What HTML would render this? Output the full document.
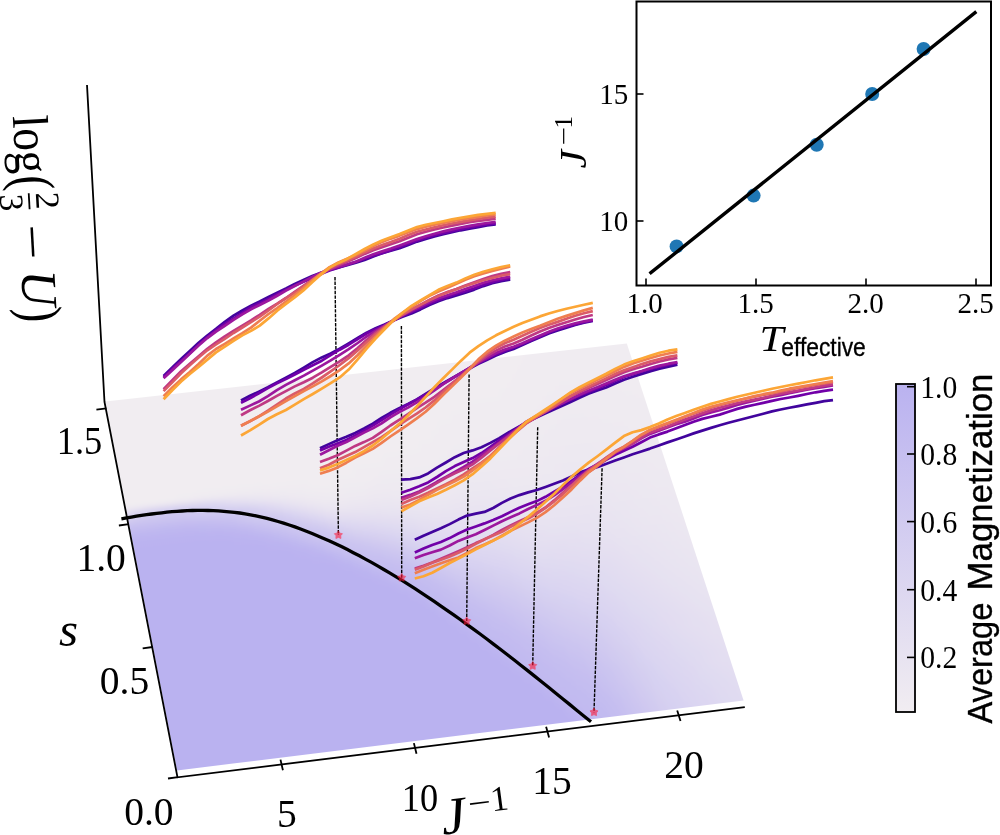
<!DOCTYPE html>
<html><head><meta charset="utf-8"><title>Phase diagram</title><style>html,body{margin:0;padding:0;background:#fff}svg{display:block}</style></head><body>
<svg width="1000" height="835" viewBox="0 0 1000 835">
<defs><linearGradient id="g0" gradientUnits="userSpaceOnUse" x1="170.8" y1="787.6" x2="94.2" y2="389.0"><stop offset="0.000" stop-color="#bab2f0"/><stop offset="0.591" stop-color="#bab2f0"/><stop offset="0.613" stop-color="#bbb3f0"/><stop offset="0.636" stop-color="#c1b9f0"/><stop offset="0.658" stop-color="#cbc4f0"/><stop offset="0.680" stop-color="#e0dbf1"/><stop offset="0.702" stop-color="#f1edf1"/><stop offset="1.000" stop-color="#f1edf1"/></linearGradient><linearGradient id="g1" gradientUnits="userSpaceOnUse" x1="179.2" y1="786.6" x2="101.9" y2="388.2"><stop offset="0.000" stop-color="#bab2f0"/><stop offset="0.591" stop-color="#bab2f0"/><stop offset="0.613" stop-color="#bbb3f0"/><stop offset="0.636" stop-color="#c0b9f0"/><stop offset="0.658" stop-color="#cbc4f0"/><stop offset="0.680" stop-color="#ddd7f1"/><stop offset="0.702" stop-color="#f1edf1"/><stop offset="1.000" stop-color="#f1edf1"/></linearGradient><linearGradient id="g2" gradientUnits="userSpaceOnUse" x1="187.6" y1="785.5" x2="109.6" y2="387.3"><stop offset="0.000" stop-color="#bab2f0"/><stop offset="0.591" stop-color="#bab2f0"/><stop offset="0.613" stop-color="#bbb3f0"/><stop offset="0.636" stop-color="#c0b8f0"/><stop offset="0.658" stop-color="#cac3f0"/><stop offset="0.680" stop-color="#d8d2f1"/><stop offset="0.702" stop-color="#f1edf1"/><stop offset="1.000" stop-color="#f1edf1"/></linearGradient><linearGradient id="g3" gradientUnits="userSpaceOnUse" x1="196.0" y1="784.5" x2="117.3" y2="386.5"><stop offset="0.000" stop-color="#bab2f0"/><stop offset="0.591" stop-color="#bab2f0"/><stop offset="0.613" stop-color="#bbb3f0"/><stop offset="0.636" stop-color="#c0b8f0"/><stop offset="0.658" stop-color="#cac3f0"/><stop offset="0.680" stop-color="#d4cef0"/><stop offset="0.702" stop-color="#f1edf1"/><stop offset="1.000" stop-color="#f1edf1"/></linearGradient><linearGradient id="g4" gradientUnits="userSpaceOnUse" x1="204.4" y1="783.5" x2="124.9" y2="385.6"><stop offset="0.000" stop-color="#bab2f0"/><stop offset="0.591" stop-color="#bab2f0"/><stop offset="0.613" stop-color="#bbb3f0"/><stop offset="0.636" stop-color="#c0b8f0"/><stop offset="0.658" stop-color="#cac3f0"/><stop offset="0.680" stop-color="#d2ccf0"/><stop offset="0.702" stop-color="#f1edf1"/><stop offset="1.000" stop-color="#f1edf1"/></linearGradient><linearGradient id="g5" gradientUnits="userSpaceOnUse" x1="212.8" y1="782.4" x2="132.6" y2="384.8"><stop offset="0.000" stop-color="#bab2f0"/><stop offset="0.591" stop-color="#bab2f0"/><stop offset="0.613" stop-color="#bbb3f0"/><stop offset="0.636" stop-color="#bfb8f0"/><stop offset="0.658" stop-color="#cac3f0"/><stop offset="0.680" stop-color="#d1cbf0"/><stop offset="0.702" stop-color="#f1edf1"/><stop offset="1.000" stop-color="#f1edf1"/></linearGradient><linearGradient id="g6" gradientUnits="userSpaceOnUse" x1="221.2" y1="781.4" x2="140.3" y2="383.9"><stop offset="0.000" stop-color="#bab2f0"/><stop offset="0.591" stop-color="#bab2f0"/><stop offset="0.613" stop-color="#bbb3f0"/><stop offset="0.636" stop-color="#bfb8f0"/><stop offset="0.658" stop-color="#cac3f0"/><stop offset="0.680" stop-color="#d1cbf0"/><stop offset="0.702" stop-color="#f1edf1"/><stop offset="1.000" stop-color="#f1edf1"/></linearGradient><linearGradient id="g7" gradientUnits="userSpaceOnUse" x1="229.6" y1="780.3" x2="147.9" y2="383.1"><stop offset="0.000" stop-color="#bab2f0"/><stop offset="0.591" stop-color="#bab2f0"/><stop offset="0.613" stop-color="#bbb3f0"/><stop offset="0.636" stop-color="#c0b8f0"/><stop offset="0.658" stop-color="#cac3f0"/><stop offset="0.680" stop-color="#d1cbf0"/><stop offset="0.702" stop-color="#f1edf1"/><stop offset="1.000" stop-color="#f1edf1"/></linearGradient><linearGradient id="g8" gradientUnits="userSpaceOnUse" x1="238.0" y1="779.3" x2="155.6" y2="382.2"><stop offset="0.000" stop-color="#bab2f0"/><stop offset="0.591" stop-color="#bab2f0"/><stop offset="0.613" stop-color="#bbb3f0"/><stop offset="0.636" stop-color="#c0b8f0"/><stop offset="0.658" stop-color="#cac3f0"/><stop offset="0.680" stop-color="#d2ccf0"/><stop offset="0.702" stop-color="#f0ecf1"/><stop offset="0.724" stop-color="#f1edf1"/><stop offset="1.000" stop-color="#f1edf1"/></linearGradient><linearGradient id="g9" gradientUnits="userSpaceOnUse" x1="246.4" y1="778.3" x2="163.3" y2="381.4"><stop offset="0.000" stop-color="#bab2f0"/><stop offset="0.591" stop-color="#bab2f0"/><stop offset="0.613" stop-color="#bbb3f0"/><stop offset="0.636" stop-color="#c1b9f0"/><stop offset="0.658" stop-color="#cbc4f0"/><stop offset="0.680" stop-color="#d3cdf0"/><stop offset="0.702" stop-color="#f0ecf1"/><stop offset="0.724" stop-color="#f1edf1"/><stop offset="1.000" stop-color="#f1edf1"/></linearGradient><linearGradient id="g10" gradientUnits="userSpaceOnUse" x1="254.8" y1="777.2" x2="170.9" y2="380.5"><stop offset="0.000" stop-color="#bab2f0"/><stop offset="0.591" stop-color="#bab2f0"/><stop offset="0.613" stop-color="#bbb4f0"/><stop offset="0.636" stop-color="#c1baf0"/><stop offset="0.658" stop-color="#ccc5f0"/><stop offset="0.680" stop-color="#d5cff0"/><stop offset="0.702" stop-color="#f0ebf1"/><stop offset="0.724" stop-color="#f1edf1"/><stop offset="1.000" stop-color="#f1edf1"/></linearGradient><linearGradient id="g11" gradientUnits="userSpaceOnUse" x1="263.2" y1="776.2" x2="178.6" y2="379.7"><stop offset="0.000" stop-color="#bab2f0"/><stop offset="0.591" stop-color="#bab2f0"/><stop offset="0.613" stop-color="#bcb4f0"/><stop offset="0.636" stop-color="#c2bbf0"/><stop offset="0.658" stop-color="#cdc6f0"/><stop offset="0.680" stop-color="#d7d1f1"/><stop offset="0.702" stop-color="#efebf1"/><stop offset="0.724" stop-color="#f1edf1"/><stop offset="1.000" stop-color="#f1edf1"/></linearGradient><linearGradient id="g12" gradientUnits="userSpaceOnUse" x1="271.5" y1="775.1" x2="186.2" y2="378.8"><stop offset="0.000" stop-color="#bab2f0"/><stop offset="0.591" stop-color="#bab2f0"/><stop offset="0.613" stop-color="#bcb4f0"/><stop offset="0.636" stop-color="#c4bcf0"/><stop offset="0.658" stop-color="#cdc7f0"/><stop offset="0.680" stop-color="#d9d4f1"/><stop offset="0.702" stop-color="#efebf1"/><stop offset="0.724" stop-color="#f1edf1"/><stop offset="1.000" stop-color="#f1edf1"/></linearGradient><linearGradient id="g13" gradientUnits="userSpaceOnUse" x1="279.9" y1="774.1" x2="193.9" y2="378.0"><stop offset="0.000" stop-color="#bab2f0"/><stop offset="0.591" stop-color="#bab2f0"/><stop offset="0.613" stop-color="#bdb5f0"/><stop offset="0.636" stop-color="#c5bef0"/><stop offset="0.658" stop-color="#cec8f0"/><stop offset="0.680" stop-color="#dcd7f1"/><stop offset="0.702" stop-color="#efebf1"/><stop offset="0.724" stop-color="#f1edf1"/><stop offset="1.000" stop-color="#f1edf1"/></linearGradient><linearGradient id="g14" gradientUnits="userSpaceOnUse" x1="288.3" y1="773.1" x2="201.5" y2="377.1"><stop offset="0.000" stop-color="#bab2f0"/><stop offset="0.568" stop-color="#bab2f0"/><stop offset="0.591" stop-color="#bbb3f0"/><stop offset="0.613" stop-color="#beb6f0"/><stop offset="0.636" stop-color="#c7c0f0"/><stop offset="0.658" stop-color="#cfc8f0"/><stop offset="0.680" stop-color="#dfdaf1"/><stop offset="0.702" stop-color="#efebf1"/><stop offset="0.724" stop-color="#f1edf1"/><stop offset="1.000" stop-color="#f1edf1"/></linearGradient><linearGradient id="g15" gradientUnits="userSpaceOnUse" x1="296.6" y1="772.0" x2="209.1" y2="376.3"><stop offset="0.000" stop-color="#bab2f0"/><stop offset="0.568" stop-color="#bab2f0"/><stop offset="0.591" stop-color="#bbb3f0"/><stop offset="0.613" stop-color="#c0b8f0"/><stop offset="0.635" stop-color="#cac3f0"/><stop offset="0.658" stop-color="#cfc9f0"/><stop offset="0.680" stop-color="#e2ddf1"/><stop offset="0.702" stop-color="#efebf1"/><stop offset="0.724" stop-color="#f1edf1"/><stop offset="1.000" stop-color="#f1edf1"/></linearGradient><linearGradient id="g16" gradientUnits="userSpaceOnUse" x1="305.0" y1="771.0" x2="216.8" y2="375.4"><stop offset="0.000" stop-color="#bab2f0"/><stop offset="0.568" stop-color="#bab2f0"/><stop offset="0.591" stop-color="#bcb4f0"/><stop offset="0.613" stop-color="#c2baf0"/><stop offset="0.635" stop-color="#ccc6f0"/><stop offset="0.658" stop-color="#d1cbf0"/><stop offset="0.680" stop-color="#e4dff1"/><stop offset="0.702" stop-color="#efebf1"/><stop offset="0.724" stop-color="#f1edf1"/><stop offset="1.000" stop-color="#f1edf1"/></linearGradient><linearGradient id="g17" gradientUnits="userSpaceOnUse" x1="313.3" y1="770.0" x2="224.4" y2="374.6"><stop offset="0.000" stop-color="#bab2f0"/><stop offset="0.568" stop-color="#bab2f0"/><stop offset="0.591" stop-color="#bdb5f0"/><stop offset="0.613" stop-color="#c5bef0"/><stop offset="0.635" stop-color="#cec8f0"/><stop offset="0.658" stop-color="#d5cff0"/><stop offset="0.680" stop-color="#e6e2f1"/><stop offset="0.702" stop-color="#efebf1"/><stop offset="0.724" stop-color="#f1edf1"/><stop offset="1.000" stop-color="#f1edf1"/></linearGradient><linearGradient id="g18" gradientUnits="userSpaceOnUse" x1="321.7" y1="768.9" x2="232.0" y2="373.7"><stop offset="0.000" stop-color="#bab2f0"/><stop offset="0.546" stop-color="#bab2f0"/><stop offset="0.568" stop-color="#bbb3f0"/><stop offset="0.591" stop-color="#bfb7f0"/><stop offset="0.613" stop-color="#c8c1f0"/><stop offset="0.635" stop-color="#cfc8f0"/><stop offset="0.658" stop-color="#d9d3f1"/><stop offset="0.680" stop-color="#e8e4f1"/><stop offset="0.702" stop-color="#efebf1"/><stop offset="0.724" stop-color="#f1edf1"/><stop offset="1.000" stop-color="#f1edf1"/></linearGradient><linearGradient id="g19" gradientUnits="userSpaceOnUse" x1="330.0" y1="767.9" x2="239.6" y2="372.9"><stop offset="0.000" stop-color="#bab2f0"/><stop offset="0.546" stop-color="#bab2f0"/><stop offset="0.568" stop-color="#bbb4f0"/><stop offset="0.591" stop-color="#c1baf0"/><stop offset="0.613" stop-color="#ccc5f0"/><stop offset="0.635" stop-color="#d0c9f0"/><stop offset="0.658" stop-color="#ddd7f1"/><stop offset="0.680" stop-color="#eae5f1"/><stop offset="0.702" stop-color="#f0ebf1"/><stop offset="0.724" stop-color="#f1edf1"/><stop offset="1.000" stop-color="#f1edf1"/></linearGradient><linearGradient id="g20" gradientUnits="userSpaceOnUse" x1="338.3" y1="766.9" x2="247.2" y2="372.0"><stop offset="0.000" stop-color="#bab2f0"/><stop offset="0.546" stop-color="#bab2f0"/><stop offset="0.568" stop-color="#bdb5f0"/><stop offset="0.591" stop-color="#c5bef0"/><stop offset="0.613" stop-color="#cdc7f0"/><stop offset="0.635" stop-color="#d2ccf0"/><stop offset="0.658" stop-color="#e0dbf1"/><stop offset="0.680" stop-color="#ebe7f1"/><stop offset="0.702" stop-color="#f0ecf1"/><stop offset="0.724" stop-color="#f1edf1"/><stop offset="1.000" stop-color="#f1edf1"/></linearGradient><linearGradient id="g21" gradientUnits="userSpaceOnUse" x1="346.7" y1="765.8" x2="254.8" y2="371.2"><stop offset="0.000" stop-color="#bab2f0"/><stop offset="0.523" stop-color="#bab2f0"/><stop offset="0.546" stop-color="#bbb3f0"/><stop offset="0.568" stop-color="#bfb8f0"/><stop offset="0.591" stop-color="#c9c2f0"/><stop offset="0.613" stop-color="#cec7f0"/><stop offset="0.635" stop-color="#d6d0f1"/><stop offset="0.658" stop-color="#e4dff1"/><stop offset="0.680" stop-color="#ece8f1"/><stop offset="0.702" stop-color="#f0ecf1"/><stop offset="0.724" stop-color="#f1edf1"/><stop offset="1.000" stop-color="#f1edf1"/></linearGradient><linearGradient id="g22" gradientUnits="userSpaceOnUse" x1="355.0" y1="764.8" x2="262.5" y2="370.3"><stop offset="0.000" stop-color="#bab2f0"/><stop offset="0.523" stop-color="#bab2f0"/><stop offset="0.546" stop-color="#bcb4f0"/><stop offset="0.568" stop-color="#c3bcf0"/><stop offset="0.591" stop-color="#ccc5f0"/><stop offset="0.613" stop-color="#cfc9f0"/><stop offset="0.635" stop-color="#dad5f1"/><stop offset="0.658" stop-color="#e6e2f1"/><stop offset="0.680" stop-color="#eee9f1"/><stop offset="0.702" stop-color="#f0ecf1"/><stop offset="0.724" stop-color="#f1edf1"/><stop offset="1.000" stop-color="#f1edf1"/></linearGradient><linearGradient id="g23" gradientUnits="userSpaceOnUse" x1="363.3" y1="763.8" x2="270.1" y2="369.5"><stop offset="0.000" stop-color="#bab2f0"/><stop offset="0.501" stop-color="#bab2f0"/><stop offset="0.523" stop-color="#bbb3f0"/><stop offset="0.546" stop-color="#beb6f0"/><stop offset="0.568" stop-color="#c7c0f0"/><stop offset="0.591" stop-color="#ccc5f0"/><stop offset="0.613" stop-color="#d3ccf0"/><stop offset="0.635" stop-color="#dfd9f1"/><stop offset="0.658" stop-color="#e9e4f1"/><stop offset="0.680" stop-color="#eeeaf1"/><stop offset="0.702" stop-color="#f0ecf1"/><stop offset="0.724" stop-color="#f1edf1"/><stop offset="1.000" stop-color="#f1edf1"/></linearGradient><linearGradient id="g24" gradientUnits="userSpaceOnUse" x1="371.6" y1="762.7" x2="277.7" y2="368.7"><stop offset="0.000" stop-color="#bab2f0"/><stop offset="0.501" stop-color="#bab2f0"/><stop offset="0.523" stop-color="#bbb3f0"/><stop offset="0.546" stop-color="#c1baf0"/><stop offset="0.568" stop-color="#cac3f0"/><stop offset="0.591" stop-color="#cdc7f0"/><stop offset="0.613" stop-color="#d7d1f1"/><stop offset="0.635" stop-color="#e2ddf1"/><stop offset="0.658" stop-color="#ebe6f1"/><stop offset="0.680" stop-color="#efebf1"/><stop offset="0.702" stop-color="#f0ecf1"/><stop offset="0.724" stop-color="#f1edf1"/><stop offset="1.000" stop-color="#f1edf1"/></linearGradient><linearGradient id="g25" gradientUnits="userSpaceOnUse" x1="379.9" y1="761.7" x2="285.3" y2="367.8"><stop offset="0.000" stop-color="#bab2f0"/><stop offset="0.501" stop-color="#bab2f0"/><stop offset="0.523" stop-color="#bdb5f0"/><stop offset="0.546" stop-color="#c6bff0"/><stop offset="0.568" stop-color="#cbc4f0"/><stop offset="0.591" stop-color="#d0caf0"/><stop offset="0.613" stop-color="#dbd5f1"/><stop offset="0.635" stop-color="#e5e0f1"/><stop offset="0.658" stop-color="#ece8f1"/><stop offset="0.680" stop-color="#efebf1"/><stop offset="0.702" stop-color="#f1edf1"/><stop offset="1.000" stop-color="#f1edf1"/></linearGradient><linearGradient id="g26" gradientUnits="userSpaceOnUse" x1="388.2" y1="760.7" x2="292.8" y2="367.0"><stop offset="0.000" stop-color="#bab2f0"/><stop offset="0.478" stop-color="#bab2f0"/><stop offset="0.501" stop-color="#bbb3f0"/><stop offset="0.523" stop-color="#c0b9f0"/><stop offset="0.546" stop-color="#c9c2f0"/><stop offset="0.568" stop-color="#ccc5f0"/><stop offset="0.591" stop-color="#d4cef0"/><stop offset="0.613" stop-color="#dfd9f1"/><stop offset="0.635" stop-color="#e8e3f1"/><stop offset="0.658" stop-color="#ede9f1"/><stop offset="0.680" stop-color="#f0ebf1"/><stop offset="0.702" stop-color="#f1edf1"/><stop offset="1.000" stop-color="#f1edf1"/></linearGradient><linearGradient id="g27" gradientUnits="userSpaceOnUse" x1="396.5" y1="759.7" x2="300.4" y2="366.1"><stop offset="0.000" stop-color="#bab2f0"/><stop offset="0.478" stop-color="#bab2f0"/><stop offset="0.500" stop-color="#bcb5f0"/><stop offset="0.523" stop-color="#c6bef0"/><stop offset="0.546" stop-color="#c9c3f0"/><stop offset="0.568" stop-color="#cfc8f0"/><stop offset="0.591" stop-color="#d8d2f1"/><stop offset="0.613" stop-color="#e2ddf1"/><stop offset="0.635" stop-color="#e9e4f1"/><stop offset="0.658" stop-color="#ede9f1"/><stop offset="0.680" stop-color="#f0ecf1"/><stop offset="0.702" stop-color="#f1edf1"/><stop offset="1.000" stop-color="#f1edf1"/></linearGradient><linearGradient id="g28" gradientUnits="userSpaceOnUse" x1="404.8" y1="758.6" x2="308.0" y2="365.3"><stop offset="0.000" stop-color="#bab2f0"/><stop offset="0.455" stop-color="#bab2f0"/><stop offset="0.478" stop-color="#bbb3f0"/><stop offset="0.500" stop-color="#c0b9f0"/><stop offset="0.523" stop-color="#c8c1f0"/><stop offset="0.546" stop-color="#cbc4f0"/><stop offset="0.568" stop-color="#d2ccf0"/><stop offset="0.591" stop-color="#dbd5f1"/><stop offset="0.613" stop-color="#e3def1"/><stop offset="0.635" stop-color="#eae5f1"/><stop offset="0.658" stop-color="#eee9f1"/><stop offset="0.680" stop-color="#f0ebf1"/><stop offset="0.702" stop-color="#f0ecf1"/><stop offset="0.724" stop-color="#f1edf1"/><stop offset="1.000" stop-color="#f1edf1"/></linearGradient><linearGradient id="g29" gradientUnits="userSpaceOnUse" x1="413.1" y1="757.6" x2="315.6" y2="364.4"><stop offset="0.000" stop-color="#bab2f0"/><stop offset="0.455" stop-color="#bab2f0"/><stop offset="0.478" stop-color="#bcb5f0"/><stop offset="0.500" stop-color="#c6bff0"/><stop offset="0.523" stop-color="#c8c1f0"/><stop offset="0.546" stop-color="#cdc6f0"/><stop offset="0.568" stop-color="#d5cff0"/><stop offset="0.591" stop-color="#ddd8f1"/><stop offset="0.613" stop-color="#e4dff1"/><stop offset="0.635" stop-color="#eae5f1"/><stop offset="0.658" stop-color="#ede9f1"/><stop offset="0.680" stop-color="#efebf1"/><stop offset="0.702" stop-color="#f0ecf1"/><stop offset="0.724" stop-color="#f1edf1"/><stop offset="1.000" stop-color="#f1edf1"/></linearGradient><linearGradient id="g30" gradientUnits="userSpaceOnUse" x1="421.4" y1="756.6" x2="323.2" y2="363.6"><stop offset="0.000" stop-color="#bab2f0"/><stop offset="0.432" stop-color="#bab2f0"/><stop offset="0.455" stop-color="#bbb3f0"/><stop offset="0.478" stop-color="#c1baf0"/><stop offset="0.500" stop-color="#c6bff0"/><stop offset="0.523" stop-color="#c9c2f0"/><stop offset="0.546" stop-color="#cfc9f0"/><stop offset="0.568" stop-color="#d7d1f1"/><stop offset="0.591" stop-color="#dfd9f1"/><stop offset="0.613" stop-color="#e5e0f1"/><stop offset="0.635" stop-color="#eae5f1"/><stop offset="0.658" stop-color="#ede9f1"/><stop offset="0.680" stop-color="#efebf1"/><stop offset="0.702" stop-color="#f0ecf1"/><stop offset="0.724" stop-color="#f1edf1"/><stop offset="1.000" stop-color="#f1edf1"/></linearGradient><linearGradient id="g31" gradientUnits="userSpaceOnUse" x1="429.7" y1="755.6" x2="330.8" y2="362.8"><stop offset="0.000" stop-color="#bab2f0"/><stop offset="0.432" stop-color="#bab2f0"/><stop offset="0.455" stop-color="#bdb5f0"/><stop offset="0.478" stop-color="#c5bdf0"/><stop offset="0.500" stop-color="#c6bff0"/><stop offset="0.523" stop-color="#cbc4f0"/><stop offset="0.546" stop-color="#d2cbf0"/><stop offset="0.568" stop-color="#d9d3f1"/><stop offset="0.591" stop-color="#e0daf1"/><stop offset="0.613" stop-color="#e5e1f1"/><stop offset="0.635" stop-color="#eae5f1"/><stop offset="0.658" stop-color="#ede9f1"/><stop offset="0.680" stop-color="#efebf1"/><stop offset="0.702" stop-color="#f0ecf1"/><stop offset="0.724" stop-color="#f0ecf1"/><stop offset="0.745" stop-color="#f1edf1"/><stop offset="1.000" stop-color="#f1edf1"/></linearGradient><linearGradient id="g32" gradientUnits="userSpaceOnUse" x1="438.0" y1="754.5" x2="338.3" y2="361.9"><stop offset="0.000" stop-color="#bab2f0"/><stop offset="0.409" stop-color="#bab2f0"/><stop offset="0.432" stop-color="#bbb3f0"/><stop offset="0.455" stop-color="#c3bcf0"/><stop offset="0.478" stop-color="#c4bdf0"/><stop offset="0.500" stop-color="#c8c1f0"/><stop offset="0.523" stop-color="#cdc7f0"/><stop offset="0.546" stop-color="#d4cef0"/><stop offset="0.568" stop-color="#dbd5f1"/><stop offset="0.591" stop-color="#e1dcf1"/><stop offset="0.613" stop-color="#e6e1f1"/><stop offset="0.635" stop-color="#eae5f1"/><stop offset="0.658" stop-color="#ede8f1"/><stop offset="0.680" stop-color="#efeaf1"/><stop offset="0.702" stop-color="#f0ecf1"/><stop offset="0.723" stop-color="#f0ecf1"/><stop offset="0.745" stop-color="#f1edf1"/><stop offset="1.000" stop-color="#f1edf1"/></linearGradient><linearGradient id="g33" gradientUnits="userSpaceOnUse" x1="446.3" y1="753.5" x2="345.9" y2="361.1"><stop offset="0.000" stop-color="#bab2f0"/><stop offset="0.409" stop-color="#bab2f0"/><stop offset="0.432" stop-color="#c0b9f0"/><stop offset="0.455" stop-color="#c3bcf0"/><stop offset="0.478" stop-color="#c6bef0"/><stop offset="0.500" stop-color="#cac3f0"/><stop offset="0.523" stop-color="#d0c9f0"/><stop offset="0.546" stop-color="#d6d0f1"/><stop offset="0.568" stop-color="#dcd7f1"/><stop offset="0.591" stop-color="#e2ddf1"/><stop offset="0.613" stop-color="#e7e2f1"/><stop offset="0.635" stop-color="#eae6f1"/><stop offset="0.658" stop-color="#ede8f1"/><stop offset="0.680" stop-color="#eeeaf1"/><stop offset="0.702" stop-color="#f0ebf1"/><stop offset="0.723" stop-color="#f0ecf1"/><stop offset="0.745" stop-color="#f1edf1"/><stop offset="1.000" stop-color="#f1edf1"/></linearGradient><linearGradient id="g34" gradientUnits="userSpaceOnUse" x1="454.6" y1="752.5" x2="353.5" y2="360.2"><stop offset="0.000" stop-color="#bab2f0"/><stop offset="0.385" stop-color="#bab2f0"/><stop offset="0.409" stop-color="#bdb5f0"/><stop offset="0.432" stop-color="#c2bbf0"/><stop offset="0.455" stop-color="#c4bcf0"/><stop offset="0.478" stop-color="#c7c0f0"/><stop offset="0.500" stop-color="#ccc6f0"/><stop offset="0.523" stop-color="#d2ccf0"/><stop offset="0.546" stop-color="#d8d3f1"/><stop offset="0.568" stop-color="#ded9f1"/><stop offset="0.591" stop-color="#e3def1"/><stop offset="0.613" stop-color="#e7e3f1"/><stop offset="0.635" stop-color="#eae6f1"/><stop offset="0.658" stop-color="#ede8f1"/><stop offset="0.680" stop-color="#eeeaf1"/><stop offset="0.702" stop-color="#efebf1"/><stop offset="0.723" stop-color="#f0ecf1"/><stop offset="0.745" stop-color="#f1edf1"/><stop offset="1.000" stop-color="#f1edf1"/></linearGradient><linearGradient id="g35" gradientUnits="userSpaceOnUse" x1="462.8" y1="751.5" x2="361.0" y2="359.4"><stop offset="0.000" stop-color="#bab2f0"/><stop offset="0.362" stop-color="#bab2f0"/><stop offset="0.385" stop-color="#bbb3f0"/><stop offset="0.409" stop-color="#c1baf0"/><stop offset="0.432" stop-color="#c3bbf0"/><stop offset="0.455" stop-color="#c6bef0"/><stop offset="0.478" stop-color="#cac3f0"/><stop offset="0.500" stop-color="#cfc9f0"/><stop offset="0.523" stop-color="#d5cff0"/><stop offset="0.546" stop-color="#dbd5f1"/><stop offset="0.568" stop-color="#e0dbf1"/><stop offset="0.591" stop-color="#e4dff1"/><stop offset="0.613" stop-color="#e8e3f1"/><stop offset="0.635" stop-color="#ebe6f1"/><stop offset="0.658" stop-color="#ede9f1"/><stop offset="0.680" stop-color="#eeeaf1"/><stop offset="0.702" stop-color="#efebf1"/><stop offset="0.723" stop-color="#f0ecf1"/><stop offset="0.745" stop-color="#f0ecf1"/><stop offset="0.767" stop-color="#f1edf1"/><stop offset="1.000" stop-color="#f1edf1"/></linearGradient><linearGradient id="g36" gradientUnits="userSpaceOnUse" x1="471.1" y1="750.4" x2="368.6" y2="358.6"><stop offset="0.000" stop-color="#bab2f0"/><stop offset="0.339" stop-color="#bab2f0"/><stop offset="0.362" stop-color="#bab3f0"/><stop offset="0.385" stop-color="#c1baf0"/><stop offset="0.409" stop-color="#c2bbf0"/><stop offset="0.432" stop-color="#c4bdf0"/><stop offset="0.455" stop-color="#c8c1f0"/><stop offset="0.478" stop-color="#cdc6f0"/><stop offset="0.500" stop-color="#d2ccf0"/><stop offset="0.523" stop-color="#d8d2f1"/><stop offset="0.546" stop-color="#ddd7f1"/><stop offset="0.568" stop-color="#e1dcf1"/><stop offset="0.591" stop-color="#e5e1f1"/><stop offset="0.613" stop-color="#e9e4f1"/><stop offset="0.635" stop-color="#ebe7f1"/><stop offset="0.658" stop-color="#ede9f1"/><stop offset="0.680" stop-color="#eeeaf1"/><stop offset="0.702" stop-color="#efebf1"/><stop offset="0.723" stop-color="#f0ecf1"/><stop offset="0.745" stop-color="#f0ecf1"/><stop offset="0.767" stop-color="#f1edf1"/><stop offset="1.000" stop-color="#f1edf1"/></linearGradient><linearGradient id="g37" gradientUnits="userSpaceOnUse" x1="479.3" y1="749.4" x2="376.1" y2="357.7"><stop offset="0.000" stop-color="#bab2f0"/><stop offset="0.339" stop-color="#bab2f0"/><stop offset="0.362" stop-color="#c1b9f0"/><stop offset="0.385" stop-color="#c2baf0"/><stop offset="0.409" stop-color="#c4bcf0"/><stop offset="0.432" stop-color="#c7c0f0"/><stop offset="0.455" stop-color="#cbc4f0"/><stop offset="0.478" stop-color="#d0c9f0"/><stop offset="0.500" stop-color="#d5cff0"/><stop offset="0.523" stop-color="#dad4f1"/><stop offset="0.546" stop-color="#dfd9f1"/><stop offset="0.568" stop-color="#e3def1"/><stop offset="0.591" stop-color="#e6e2f1"/><stop offset="0.613" stop-color="#e9e5f1"/><stop offset="0.635" stop-color="#ece7f1"/><stop offset="0.658" stop-color="#ede9f1"/><stop offset="0.680" stop-color="#efeaf1"/><stop offset="0.702" stop-color="#efebf1"/><stop offset="0.723" stop-color="#f0ecf1"/><stop offset="0.745" stop-color="#f0ecf1"/><stop offset="0.767" stop-color="#f1edf1"/><stop offset="1.000" stop-color="#f1edf1"/></linearGradient><linearGradient id="g38" gradientUnits="userSpaceOnUse" x1="487.6" y1="748.4" x2="383.7" y2="356.9"><stop offset="0.000" stop-color="#bab2f0"/><stop offset="0.315" stop-color="#bab2f0"/><stop offset="0.339" stop-color="#c0b8f0"/><stop offset="0.362" stop-color="#c2baf0"/><stop offset="0.385" stop-color="#c3bcf0"/><stop offset="0.409" stop-color="#c6bff0"/><stop offset="0.432" stop-color="#c9c3f0"/><stop offset="0.455" stop-color="#cec7f0"/><stop offset="0.478" stop-color="#d2ccf0"/><stop offset="0.500" stop-color="#d7d1f1"/><stop offset="0.523" stop-color="#dcd6f1"/><stop offset="0.546" stop-color="#e0dbf1"/><stop offset="0.568" stop-color="#e4dff1"/><stop offset="0.591" stop-color="#e7e2f1"/><stop offset="0.613" stop-color="#eae5f1"/><stop offset="0.635" stop-color="#ece7f1"/><stop offset="0.658" stop-color="#ede9f1"/><stop offset="0.680" stop-color="#efeaf1"/><stop offset="0.702" stop-color="#efebf1"/><stop offset="0.723" stop-color="#f0ecf1"/><stop offset="0.745" stop-color="#f0ecf1"/><stop offset="0.767" stop-color="#f1edf1"/><stop offset="1.000" stop-color="#f1edf1"/></linearGradient><linearGradient id="g39" gradientUnits="userSpaceOnUse" x1="495.9" y1="747.4" x2="391.2" y2="356.1"><stop offset="0.000" stop-color="#bab2f0"/><stop offset="0.291" stop-color="#bab2f0"/><stop offset="0.315" stop-color="#bfb7f0"/><stop offset="0.339" stop-color="#c1baf0"/><stop offset="0.362" stop-color="#c3bbf0"/><stop offset="0.385" stop-color="#c5bef0"/><stop offset="0.409" stop-color="#c8c1f0"/><stop offset="0.432" stop-color="#ccc5f0"/><stop offset="0.455" stop-color="#d0caf0"/><stop offset="0.478" stop-color="#d5cff0"/><stop offset="0.500" stop-color="#d9d4f1"/><stop offset="0.523" stop-color="#ddd8f1"/><stop offset="0.546" stop-color="#e1dcf1"/><stop offset="0.568" stop-color="#e5e0f1"/><stop offset="0.591" stop-color="#e8e3f1"/><stop offset="0.613" stop-color="#eae5f1"/><stop offset="0.635" stop-color="#ece8f1"/><stop offset="0.658" stop-color="#ede9f1"/><stop offset="0.680" stop-color="#eeeaf1"/><stop offset="0.702" stop-color="#efebf1"/><stop offset="0.723" stop-color="#f0ecf1"/><stop offset="0.745" stop-color="#f0ecf1"/><stop offset="0.767" stop-color="#f1edf1"/><stop offset="1.000" stop-color="#f1edf1"/></linearGradient><linearGradient id="g40" gradientUnits="userSpaceOnUse" x1="504.1" y1="746.3" x2="398.8" y2="355.2"><stop offset="0.000" stop-color="#bab2f0"/><stop offset="0.268" stop-color="#bab2f0"/><stop offset="0.291" stop-color="#beb6f0"/><stop offset="0.315" stop-color="#c1baf0"/><stop offset="0.339" stop-color="#c2bbf0"/><stop offset="0.362" stop-color="#c4bdf0"/><stop offset="0.385" stop-color="#c7c0f0"/><stop offset="0.409" stop-color="#cbc4f0"/><stop offset="0.432" stop-color="#cec8f0"/><stop offset="0.455" stop-color="#d3ccf0"/><stop offset="0.478" stop-color="#d7d1f1"/><stop offset="0.500" stop-color="#dbd5f1"/><stop offset="0.523" stop-color="#dfd9f1"/><stop offset="0.546" stop-color="#e2ddf1"/><stop offset="0.568" stop-color="#e5e0f1"/><stop offset="0.591" stop-color="#e8e3f1"/><stop offset="0.613" stop-color="#eae6f1"/><stop offset="0.635" stop-color="#ece8f1"/><stop offset="0.658" stop-color="#ede9f1"/><stop offset="0.680" stop-color="#eeeaf1"/><stop offset="0.702" stop-color="#efebf1"/><stop offset="0.723" stop-color="#f0ecf1"/><stop offset="0.767" stop-color="#f0ecf1"/><stop offset="0.789" stop-color="#f1edf1"/><stop offset="1.000" stop-color="#f1edf1"/></linearGradient><linearGradient id="g41" gradientUnits="userSpaceOnUse" x1="512.3" y1="745.3" x2="406.3" y2="354.4"><stop offset="0.000" stop-color="#bab2f0"/><stop offset="0.244" stop-color="#bab2f0"/><stop offset="0.268" stop-color="#bdb6f0"/><stop offset="0.291" stop-color="#c1baf0"/><stop offset="0.315" stop-color="#c2bbf0"/><stop offset="0.339" stop-color="#c4bdf0"/><stop offset="0.362" stop-color="#c6bff0"/><stop offset="0.385" stop-color="#c9c2f0"/><stop offset="0.409" stop-color="#cdc6f0"/><stop offset="0.432" stop-color="#d1caf0"/><stop offset="0.455" stop-color="#d4cef0"/><stop offset="0.478" stop-color="#d8d3f1"/><stop offset="0.500" stop-color="#dcd7f1"/><stop offset="0.523" stop-color="#e0daf1"/><stop offset="0.546" stop-color="#e3def1"/><stop offset="0.568" stop-color="#e6e1f1"/><stop offset="0.591" stop-color="#e8e3f1"/><stop offset="0.613" stop-color="#eae6f1"/><stop offset="0.635" stop-color="#ece7f1"/><stop offset="0.658" stop-color="#ede9f1"/><stop offset="0.680" stop-color="#eeeaf1"/><stop offset="0.702" stop-color="#efebf1"/><stop offset="0.723" stop-color="#f0ebf1"/><stop offset="0.745" stop-color="#f0ecf1"/><stop offset="0.767" stop-color="#f0ecf1"/><stop offset="0.789" stop-color="#f1edf1"/><stop offset="1.000" stop-color="#f1edf1"/></linearGradient><linearGradient id="g42" gradientUnits="userSpaceOnUse" x1="520.6" y1="744.3" x2="413.8" y2="353.5"><stop offset="0.000" stop-color="#bab2f0"/><stop offset="0.220" stop-color="#bab2f0"/><stop offset="0.244" stop-color="#bdb5f0"/><stop offset="0.268" stop-color="#c1baf0"/><stop offset="0.291" stop-color="#c2bbf0"/><stop offset="0.315" stop-color="#c3bcf0"/><stop offset="0.339" stop-color="#c5bef0"/><stop offset="0.362" stop-color="#c8c1f0"/><stop offset="0.385" stop-color="#cbc5f0"/><stop offset="0.409" stop-color="#cfc8f0"/><stop offset="0.432" stop-color="#d2ccf0"/><stop offset="0.455" stop-color="#d6d0f1"/><stop offset="0.478" stop-color="#dad4f1"/><stop offset="0.500" stop-color="#ddd8f1"/><stop offset="0.523" stop-color="#e0dbf1"/><stop offset="0.546" stop-color="#e3def1"/><stop offset="0.568" stop-color="#e6e1f1"/><stop offset="0.591" stop-color="#e8e3f1"/><stop offset="0.613" stop-color="#eae5f1"/><stop offset="0.635" stop-color="#ece7f1"/><stop offset="0.658" stop-color="#ede9f1"/><stop offset="0.680" stop-color="#eeeaf1"/><stop offset="0.702" stop-color="#efebf1"/><stop offset="0.723" stop-color="#efebf1"/><stop offset="0.745" stop-color="#f0ecf1"/><stop offset="0.789" stop-color="#f0ecf1"/><stop offset="0.810" stop-color="#f1edf1"/><stop offset="1.000" stop-color="#f1edf1"/></linearGradient><linearGradient id="g43" gradientUnits="userSpaceOnUse" x1="528.8" y1="743.3" x2="421.4" y2="352.7"><stop offset="0.000" stop-color="#bab2f0"/><stop offset="0.196" stop-color="#bab2f0"/><stop offset="0.220" stop-color="#bdb5f0"/><stop offset="0.244" stop-color="#c1baf0"/><stop offset="0.268" stop-color="#c2baf0"/><stop offset="0.291" stop-color="#c3bcf0"/><stop offset="0.315" stop-color="#c5bef0"/><stop offset="0.339" stop-color="#c7c0f0"/><stop offset="0.362" stop-color="#cac3f0"/><stop offset="0.385" stop-color="#cdc7f0"/><stop offset="0.409" stop-color="#d0caf0"/><stop offset="0.432" stop-color="#d4cef0"/><stop offset="0.455" stop-color="#d7d1f1"/><stop offset="0.478" stop-color="#dbd5f1"/><stop offset="0.500" stop-color="#ded8f1"/><stop offset="0.523" stop-color="#e1dcf1"/><stop offset="0.546" stop-color="#e3def1"/><stop offset="0.568" stop-color="#e6e1f1"/><stop offset="0.591" stop-color="#e8e3f1"/><stop offset="0.613" stop-color="#eae5f1"/><stop offset="0.635" stop-color="#ebe7f1"/><stop offset="0.658" stop-color="#ede8f1"/><stop offset="0.680" stop-color="#eee9f1"/><stop offset="0.702" stop-color="#eeeaf1"/><stop offset="0.723" stop-color="#efebf1"/><stop offset="0.745" stop-color="#f0ebf1"/><stop offset="0.767" stop-color="#f0ecf1"/><stop offset="0.810" stop-color="#f0ecf1"/><stop offset="0.832" stop-color="#f1edf1"/><stop offset="1.000" stop-color="#f1edf1"/></linearGradient><linearGradient id="g44" gradientUnits="userSpaceOnUse" x1="537.0" y1="742.3" x2="428.9" y2="351.9"><stop offset="0.000" stop-color="#bab2f0"/><stop offset="0.172" stop-color="#bab2f0"/><stop offset="0.196" stop-color="#bdb5f0"/><stop offset="0.220" stop-color="#c1baf0"/><stop offset="0.244" stop-color="#c2baf0"/><stop offset="0.268" stop-color="#c3bbf0"/><stop offset="0.291" stop-color="#c4bdf0"/><stop offset="0.315" stop-color="#c7bff0"/><stop offset="0.339" stop-color="#c9c2f0"/><stop offset="0.362" stop-color="#ccc5f0"/><stop offset="0.385" stop-color="#cfc8f0"/><stop offset="0.409" stop-color="#d2ccf0"/><stop offset="0.432" stop-color="#d5cff0"/><stop offset="0.455" stop-color="#d9d3f1"/><stop offset="0.478" stop-color="#dcd6f1"/><stop offset="0.500" stop-color="#dfd9f1"/><stop offset="0.523" stop-color="#e1dcf1"/><stop offset="0.546" stop-color="#e4dff1"/><stop offset="0.568" stop-color="#e6e1f1"/><stop offset="0.591" stop-color="#e8e3f1"/><stop offset="0.613" stop-color="#eae5f1"/><stop offset="0.635" stop-color="#ebe7f1"/><stop offset="0.658" stop-color="#ece8f1"/><stop offset="0.680" stop-color="#ede9f1"/><stop offset="0.702" stop-color="#eeeaf1"/><stop offset="0.723" stop-color="#efebf1"/><stop offset="0.745" stop-color="#efebf1"/><stop offset="0.767" stop-color="#f0ecf1"/><stop offset="0.810" stop-color="#f0ecf1"/><stop offset="0.832" stop-color="#f1edf1"/><stop offset="1.000" stop-color="#f1edf1"/></linearGradient><linearGradient id="g45" gradientUnits="userSpaceOnUse" x1="545.3" y1="741.2" x2="436.4" y2="351.0"><stop offset="0.000" stop-color="#bab2f0"/><stop offset="0.148" stop-color="#bab2f0"/><stop offset="0.172" stop-color="#bdb5f0"/><stop offset="0.196" stop-color="#c1baf0"/><stop offset="0.220" stop-color="#c2baf0"/><stop offset="0.244" stop-color="#c3bbf0"/><stop offset="0.268" stop-color="#c4bdf0"/><stop offset="0.291" stop-color="#c6bff0"/><stop offset="0.315" stop-color="#c8c1f0"/><stop offset="0.339" stop-color="#cbc4f0"/><stop offset="0.362" stop-color="#cec7f0"/><stop offset="0.385" stop-color="#d1caf0"/><stop offset="0.409" stop-color="#d4cef0"/><stop offset="0.432" stop-color="#d7d1f1"/><stop offset="0.455" stop-color="#dad4f1"/><stop offset="0.478" stop-color="#ddd7f1"/><stop offset="0.500" stop-color="#dfdaf1"/><stop offset="0.523" stop-color="#e2ddf1"/><stop offset="0.546" stop-color="#e4dff1"/><stop offset="0.568" stop-color="#e6e1f1"/><stop offset="0.591" stop-color="#e8e3f1"/><stop offset="0.613" stop-color="#eae5f1"/><stop offset="0.635" stop-color="#ebe7f1"/><stop offset="0.657" stop-color="#ece8f1"/><stop offset="0.680" stop-color="#ede9f1"/><stop offset="0.702" stop-color="#eeeaf1"/><stop offset="0.723" stop-color="#efebf1"/><stop offset="0.745" stop-color="#efebf1"/><stop offset="0.767" stop-color="#f0ecf1"/><stop offset="0.832" stop-color="#f0ecf1"/><stop offset="0.853" stop-color="#f1edf1"/><stop offset="1.000" stop-color="#f1edf1"/></linearGradient><linearGradient id="g46" gradientUnits="userSpaceOnUse" x1="553.5" y1="740.2" x2="444.0" y2="350.2"><stop offset="0.000" stop-color="#bab2f0"/><stop offset="0.123" stop-color="#bab2f0"/><stop offset="0.148" stop-color="#bdb5f0"/><stop offset="0.172" stop-color="#c1baf0"/><stop offset="0.196" stop-color="#c2baf0"/><stop offset="0.220" stop-color="#c3bbf0"/><stop offset="0.244" stop-color="#c4bdf0"/><stop offset="0.268" stop-color="#c6bef0"/><stop offset="0.291" stop-color="#c8c1f0"/><stop offset="0.315" stop-color="#cac3f0"/><stop offset="0.339" stop-color="#cdc6f0"/><stop offset="0.362" stop-color="#cfc9f0"/><stop offset="0.385" stop-color="#d2ccf0"/><stop offset="0.409" stop-color="#d5cff0"/><stop offset="0.432" stop-color="#d8d2f1"/><stop offset="0.455" stop-color="#dbd5f1"/><stop offset="0.478" stop-color="#ded8f1"/><stop offset="0.500" stop-color="#e0dbf1"/><stop offset="0.523" stop-color="#e3ddf1"/><stop offset="0.546" stop-color="#e5e0f1"/><stop offset="0.568" stop-color="#e7e2f1"/><stop offset="0.591" stop-color="#e8e4f1"/><stop offset="0.613" stop-color="#eae5f1"/><stop offset="0.635" stop-color="#ebe7f1"/><stop offset="0.657" stop-color="#ece8f1"/><stop offset="0.680" stop-color="#ede9f1"/><stop offset="0.702" stop-color="#eeeaf1"/><stop offset="0.723" stop-color="#efeaf1"/><stop offset="0.745" stop-color="#efebf1"/><stop offset="0.767" stop-color="#f0ebf1"/><stop offset="0.789" stop-color="#f0ecf1"/><stop offset="0.832" stop-color="#f0ecf1"/><stop offset="0.853" stop-color="#f1edf1"/><stop offset="1.000" stop-color="#f1edf1"/></linearGradient><linearGradient id="g47" gradientUnits="userSpaceOnUse" x1="561.7" y1="739.2" x2="451.5" y2="349.4"><stop offset="0.000" stop-color="#bab2f0"/><stop offset="0.099" stop-color="#bab2f0"/><stop offset="0.123" stop-color="#bdb5f0"/><stop offset="0.148" stop-color="#c1baf0"/><stop offset="0.172" stop-color="#c2baf0"/><stop offset="0.196" stop-color="#c2bbf0"/><stop offset="0.220" stop-color="#c4bcf0"/><stop offset="0.244" stop-color="#c5bef0"/><stop offset="0.268" stop-color="#c7c0f0"/><stop offset="0.291" stop-color="#cac3f0"/><stop offset="0.315" stop-color="#ccc5f0"/><stop offset="0.339" stop-color="#cfc8f0"/><stop offset="0.362" stop-color="#d1cbf0"/><stop offset="0.385" stop-color="#d4cef0"/><stop offset="0.409" stop-color="#d7d1f1"/><stop offset="0.432" stop-color="#dad4f1"/><stop offset="0.455" stop-color="#dcd7f1"/><stop offset="0.478" stop-color="#dfd9f1"/><stop offset="0.500" stop-color="#e1dcf1"/><stop offset="0.523" stop-color="#e3def1"/><stop offset="0.546" stop-color="#e5e0f1"/><stop offset="0.568" stop-color="#e7e2f1"/><stop offset="0.591" stop-color="#e9e4f1"/><stop offset="0.613" stop-color="#eae6f1"/><stop offset="0.635" stop-color="#ebe7f1"/><stop offset="0.657" stop-color="#ece8f1"/><stop offset="0.680" stop-color="#ede9f1"/><stop offset="0.702" stop-color="#eeeaf1"/><stop offset="0.723" stop-color="#efeaf1"/><stop offset="0.745" stop-color="#efebf1"/><stop offset="0.767" stop-color="#f0ebf1"/><stop offset="0.789" stop-color="#f0ecf1"/><stop offset="0.832" stop-color="#f0ecf1"/><stop offset="0.853" stop-color="#f1ecf1"/><stop offset="0.874" stop-color="#f1edf1"/><stop offset="1.000" stop-color="#f1edf1"/></linearGradient><linearGradient id="g48" gradientUnits="userSpaceOnUse" x1="569.9" y1="738.2" x2="459.0" y2="348.5"><stop offset="0.000" stop-color="#bab2f0"/><stop offset="0.074" stop-color="#bab2f0"/><stop offset="0.099" stop-color="#bdb5f0"/><stop offset="0.123" stop-color="#c1baf0"/><stop offset="0.148" stop-color="#c2baf0"/><stop offset="0.172" stop-color="#c2bbf0"/><stop offset="0.196" stop-color="#c4bcf0"/><stop offset="0.220" stop-color="#c5bef0"/><stop offset="0.244" stop-color="#c7c0f0"/><stop offset="0.268" stop-color="#c9c2f0"/><stop offset="0.291" stop-color="#cbc5f0"/><stop offset="0.315" stop-color="#cec7f0"/><stop offset="0.339" stop-color="#d0caf0"/><stop offset="0.362" stop-color="#d3cdf0"/><stop offset="0.385" stop-color="#d6d0f1"/><stop offset="0.409" stop-color="#d9d3f1"/><stop offset="0.432" stop-color="#dbd6f1"/><stop offset="0.455" stop-color="#ded8f1"/><stop offset="0.478" stop-color="#e0dbf1"/><stop offset="0.500" stop-color="#e2ddf1"/><stop offset="0.523" stop-color="#e4dff1"/><stop offset="0.546" stop-color="#e6e1f1"/><stop offset="0.568" stop-color="#e8e3f1"/><stop offset="0.591" stop-color="#e9e5f1"/><stop offset="0.613" stop-color="#eae6f1"/><stop offset="0.635" stop-color="#ece7f1"/><stop offset="0.657" stop-color="#ede8f1"/><stop offset="0.680" stop-color="#ede9f1"/><stop offset="0.702" stop-color="#eeeaf1"/><stop offset="0.723" stop-color="#efeaf1"/><stop offset="0.745" stop-color="#efebf1"/><stop offset="0.767" stop-color="#f0ebf1"/><stop offset="0.789" stop-color="#f0ecf1"/><stop offset="0.853" stop-color="#f0ecf1"/><stop offset="0.874" stop-color="#f1edf1"/><stop offset="1.000" stop-color="#f1edf1"/></linearGradient><linearGradient id="g49" gradientUnits="userSpaceOnUse" x1="578.1" y1="737.2" x2="466.5" y2="347.7"><stop offset="0.000" stop-color="#bab2f0"/><stop offset="0.050" stop-color="#bab2f0"/><stop offset="0.074" stop-color="#beb6f0"/><stop offset="0.099" stop-color="#c1baf0"/><stop offset="0.123" stop-color="#c2baf0"/><stop offset="0.148" stop-color="#c2bbf0"/><stop offset="0.172" stop-color="#c3bcf0"/><stop offset="0.196" stop-color="#c5bef0"/><stop offset="0.220" stop-color="#c7c0f0"/><stop offset="0.244" stop-color="#c9c2f0"/><stop offset="0.268" stop-color="#cbc4f0"/><stop offset="0.291" stop-color="#cdc7f0"/><stop offset="0.315" stop-color="#d0c9f0"/><stop offset="0.339" stop-color="#d2ccf0"/><stop offset="0.362" stop-color="#d5cff0"/><stop offset="0.385" stop-color="#d7d2f1"/><stop offset="0.408" stop-color="#dad4f1"/><stop offset="0.432" stop-color="#dcd7f1"/><stop offset="0.455" stop-color="#dfd9f1"/><stop offset="0.478" stop-color="#e1dcf1"/><stop offset="0.500" stop-color="#e3def1"/><stop offset="0.523" stop-color="#e5e0f1"/><stop offset="0.546" stop-color="#e7e2f1"/><stop offset="0.568" stop-color="#e8e4f1"/><stop offset="0.591" stop-color="#eae5f1"/><stop offset="0.613" stop-color="#ebe6f1"/><stop offset="0.635" stop-color="#ece7f1"/><stop offset="0.657" stop-color="#ede8f1"/><stop offset="0.680" stop-color="#eee9f1"/><stop offset="0.702" stop-color="#eeeaf1"/><stop offset="0.723" stop-color="#efebf1"/><stop offset="0.745" stop-color="#efebf1"/><stop offset="0.767" stop-color="#f0ebf1"/><stop offset="0.789" stop-color="#f0ecf1"/><stop offset="0.853" stop-color="#f0ecf1"/><stop offset="0.874" stop-color="#f1edf1"/><stop offset="1.000" stop-color="#f1edf1"/></linearGradient><linearGradient id="g50" gradientUnits="userSpaceOnUse" x1="586.3" y1="736.2" x2="474.0" y2="346.9"><stop offset="0.000" stop-color="#bab2f0"/><stop offset="0.025" stop-color="#bab2f0"/><stop offset="0.050" stop-color="#beb6f0"/><stop offset="0.074" stop-color="#c1baf0"/><stop offset="0.099" stop-color="#c2baf0"/><stop offset="0.123" stop-color="#c2bbf0"/><stop offset="0.148" stop-color="#c3bcf0"/><stop offset="0.172" stop-color="#c5bdf0"/><stop offset="0.196" stop-color="#c6bff0"/><stop offset="0.220" stop-color="#c8c1f0"/><stop offset="0.244" stop-color="#cac4f0"/><stop offset="0.268" stop-color="#cdc6f0"/><stop offset="0.291" stop-color="#cfc9f0"/><stop offset="0.315" stop-color="#d1cbf0"/><stop offset="0.339" stop-color="#d4cef0"/><stop offset="0.362" stop-color="#d6d1f1"/><stop offset="0.385" stop-color="#d9d3f1"/><stop offset="0.408" stop-color="#dbd6f1"/><stop offset="0.432" stop-color="#ded8f1"/><stop offset="0.455" stop-color="#e0dbf1"/><stop offset="0.478" stop-color="#e2ddf1"/><stop offset="0.500" stop-color="#e4dff1"/><stop offset="0.523" stop-color="#e6e1f1"/><stop offset="0.546" stop-color="#e7e2f1"/><stop offset="0.568" stop-color="#e9e4f1"/><stop offset="0.591" stop-color="#eae5f1"/><stop offset="0.613" stop-color="#ebe7f1"/><stop offset="0.635" stop-color="#ece8f1"/><stop offset="0.657" stop-color="#ede9f1"/><stop offset="0.680" stop-color="#eee9f1"/><stop offset="0.702" stop-color="#eeeaf1"/><stop offset="0.723" stop-color="#efebf1"/><stop offset="0.745" stop-color="#efebf1"/><stop offset="0.767" stop-color="#f0ebf1"/><stop offset="0.789" stop-color="#f0ecf1"/><stop offset="0.853" stop-color="#f0ecf1"/><stop offset="0.874" stop-color="#f1edf1"/><stop offset="1.000" stop-color="#f1edf1"/></linearGradient><linearGradient id="g51" gradientUnits="userSpaceOnUse" x1="594.5" y1="735.1" x2="481.5" y2="346.0"><stop offset="0.000" stop-color="#bab2f0"/><stop offset="0.025" stop-color="#beb7f0"/><stop offset="0.050" stop-color="#c1baf0"/><stop offset="0.074" stop-color="#c2baf0"/><stop offset="0.099" stop-color="#c2bbf0"/><stop offset="0.123" stop-color="#c3bcf0"/><stop offset="0.148" stop-color="#c5bdf0"/><stop offset="0.172" stop-color="#c6bff0"/><stop offset="0.196" stop-color="#c8c1f0"/><stop offset="0.220" stop-color="#cac3f0"/><stop offset="0.244" stop-color="#ccc5f0"/><stop offset="0.268" stop-color="#cec8f0"/><stop offset="0.291" stop-color="#d1caf0"/><stop offset="0.315" stop-color="#d3cdf0"/><stop offset="0.339" stop-color="#d5cff0"/><stop offset="0.362" stop-color="#d8d2f1"/><stop offset="0.385" stop-color="#dad5f1"/><stop offset="0.408" stop-color="#ddd7f1"/><stop offset="0.432" stop-color="#dfd9f1"/><stop offset="0.455" stop-color="#e1dcf1"/><stop offset="0.478" stop-color="#e3def1"/><stop offset="0.500" stop-color="#e4e0f1"/><stop offset="0.523" stop-color="#e6e1f1"/><stop offset="0.546" stop-color="#e8e3f1"/><stop offset="0.568" stop-color="#e9e4f1"/><stop offset="0.591" stop-color="#eae6f1"/><stop offset="0.613" stop-color="#ebe7f1"/><stop offset="0.635" stop-color="#ece8f1"/><stop offset="0.657" stop-color="#ede9f1"/><stop offset="0.680" stop-color="#eee9f1"/><stop offset="0.702" stop-color="#eeeaf1"/><stop offset="0.723" stop-color="#efebf1"/><stop offset="0.745" stop-color="#efebf1"/><stop offset="0.767" stop-color="#f0ebf1"/><stop offset="0.789" stop-color="#f0ecf1"/><stop offset="0.853" stop-color="#f0ecf1"/><stop offset="0.874" stop-color="#f1edf1"/><stop offset="1.000" stop-color="#f1edf1"/></linearGradient><linearGradient id="g52" gradientUnits="userSpaceOnUse" x1="602.7" y1="734.1" x2="489.0" y2="345.2"><stop offset="0.000" stop-color="#beb6f0"/><stop offset="0.025" stop-color="#c1baf0"/><stop offset="0.050" stop-color="#c2baf0"/><stop offset="0.074" stop-color="#c2bbf0"/><stop offset="0.099" stop-color="#c3bcf0"/><stop offset="0.123" stop-color="#c4bdf0"/><stop offset="0.148" stop-color="#c6bef0"/><stop offset="0.172" stop-color="#c7c0f0"/><stop offset="0.196" stop-color="#c9c2f0"/><stop offset="0.220" stop-color="#cbc4f0"/><stop offset="0.244" stop-color="#cdc7f0"/><stop offset="0.268" stop-color="#d0c9f0"/><stop offset="0.291" stop-color="#d2ccf0"/><stop offset="0.315" stop-color="#d4cef0"/><stop offset="0.339" stop-color="#d6d1f1"/><stop offset="0.362" stop-color="#d9d3f1"/><stop offset="0.385" stop-color="#dbd5f1"/><stop offset="0.408" stop-color="#ddd8f1"/><stop offset="0.432" stop-color="#dfdaf1"/><stop offset="0.455" stop-color="#e1dcf1"/><stop offset="0.478" stop-color="#e3def1"/><stop offset="0.500" stop-color="#e5e0f1"/><stop offset="0.523" stop-color="#e6e1f1"/><stop offset="0.546" stop-color="#e8e3f1"/><stop offset="0.568" stop-color="#e9e4f1"/><stop offset="0.591" stop-color="#eae6f1"/><stop offset="0.613" stop-color="#ebe7f1"/><stop offset="0.635" stop-color="#ece8f1"/><stop offset="0.657" stop-color="#ede9f1"/><stop offset="0.680" stop-color="#eee9f1"/><stop offset="0.702" stop-color="#eeeaf1"/><stop offset="0.723" stop-color="#efeaf1"/><stop offset="0.745" stop-color="#efebf1"/><stop offset="0.767" stop-color="#efebf1"/><stop offset="0.789" stop-color="#f0ecf1"/><stop offset="0.874" stop-color="#f0ecf1"/><stop offset="0.895" stop-color="#f1edf1"/><stop offset="1.000" stop-color="#f1edf1"/></linearGradient><linearGradient id="g53" gradientUnits="userSpaceOnUse" x1="610.9" y1="733.1" x2="496.5" y2="344.4"><stop offset="0.000" stop-color="#c2baf0"/><stop offset="0.025" stop-color="#c2baf0"/><stop offset="0.050" stop-color="#c2bbf0"/><stop offset="0.074" stop-color="#c3bcf0"/><stop offset="0.099" stop-color="#c4bdf0"/><stop offset="0.123" stop-color="#c6bef0"/><stop offset="0.148" stop-color="#c7c0f0"/><stop offset="0.172" stop-color="#c9c2f0"/><stop offset="0.196" stop-color="#cbc4f0"/><stop offset="0.220" stop-color="#cdc6f0"/><stop offset="0.244" stop-color="#cfc8f0"/><stop offset="0.268" stop-color="#d1cbf0"/><stop offset="0.291" stop-color="#d3cdf0"/><stop offset="0.315" stop-color="#d5cff0"/><stop offset="0.339" stop-color="#d7d2f1"/><stop offset="0.362" stop-color="#dad4f1"/><stop offset="0.385" stop-color="#dcd6f1"/><stop offset="0.408" stop-color="#ded8f1"/><stop offset="0.432" stop-color="#e0daf1"/><stop offset="0.455" stop-color="#e2dcf1"/><stop offset="0.478" stop-color="#e3def1"/><stop offset="0.500" stop-color="#e5e0f1"/><stop offset="0.523" stop-color="#e6e2f1"/><stop offset="0.546" stop-color="#e8e3f1"/><stop offset="0.568" stop-color="#e9e4f1"/><stop offset="0.591" stop-color="#eae6f1"/><stop offset="0.613" stop-color="#ebe7f1"/><stop offset="0.635" stop-color="#ece8f1"/><stop offset="0.657" stop-color="#ede8f1"/><stop offset="0.680" stop-color="#ede9f1"/><stop offset="0.702" stop-color="#eeeaf1"/><stop offset="0.723" stop-color="#eeeaf1"/><stop offset="0.745" stop-color="#efebf1"/><stop offset="0.767" stop-color="#efebf1"/><stop offset="0.789" stop-color="#f0ebf1"/><stop offset="0.810" stop-color="#f0ecf1"/><stop offset="0.874" stop-color="#f0ecf1"/><stop offset="0.895" stop-color="#f1ecf1"/><stop offset="0.916" stop-color="#f1edf1"/><stop offset="1.000" stop-color="#f1edf1"/></linearGradient><linearGradient id="g54" gradientUnits="userSpaceOnUse" x1="619.1" y1="732.1" x2="504.0" y2="343.5"><stop offset="0.000" stop-color="#c3bcf0"/><stop offset="0.025" stop-color="#c3bcf0"/><stop offset="0.050" stop-color="#c4bdf0"/><stop offset="0.074" stop-color="#c5bef0"/><stop offset="0.099" stop-color="#c6bff0"/><stop offset="0.123" stop-color="#c8c1f0"/><stop offset="0.148" stop-color="#c9c2f0"/><stop offset="0.172" stop-color="#cbc4f0"/><stop offset="0.196" stop-color="#cdc6f0"/><stop offset="0.220" stop-color="#cec8f0"/><stop offset="0.244" stop-color="#d0caf0"/><stop offset="0.268" stop-color="#d2ccf0"/><stop offset="0.291" stop-color="#d4cef0"/><stop offset="0.315" stop-color="#d7d1f1"/><stop offset="0.339" stop-color="#d9d3f1"/><stop offset="0.362" stop-color="#dbd5f1"/><stop offset="0.385" stop-color="#ddd7f1"/><stop offset="0.408" stop-color="#ded9f1"/><stop offset="0.432" stop-color="#e0dbf1"/><stop offset="0.455" stop-color="#e2ddf1"/><stop offset="0.478" stop-color="#e3def1"/><stop offset="0.500" stop-color="#e5e0f1"/><stop offset="0.523" stop-color="#e6e2f1"/><stop offset="0.546" stop-color="#e8e3f1"/><stop offset="0.568" stop-color="#e9e4f1"/><stop offset="0.591" stop-color="#eae5f1"/><stop offset="0.613" stop-color="#ebe6f1"/><stop offset="0.635" stop-color="#ece7f1"/><stop offset="0.657" stop-color="#ece8f1"/><stop offset="0.680" stop-color="#ede9f1"/><stop offset="0.702" stop-color="#eee9f1"/><stop offset="0.723" stop-color="#eeeaf1"/><stop offset="0.745" stop-color="#efebf1"/><stop offset="0.789" stop-color="#efebf1"/><stop offset="0.810" stop-color="#f0ecf1"/><stop offset="0.895" stop-color="#f0ecf1"/><stop offset="0.916" stop-color="#f1ecf1"/><stop offset="0.937" stop-color="#f1edf1"/><stop offset="1.000" stop-color="#f1edf1"/></linearGradient><linearGradient id="g55" gradientUnits="userSpaceOnUse" x1="627.3" y1="731.1" x2="511.5" y2="342.7"><stop offset="0.000" stop-color="#c5bef0"/><stop offset="0.025" stop-color="#c6bef0"/><stop offset="0.050" stop-color="#c6bff0"/><stop offset="0.074" stop-color="#c7c0f0"/><stop offset="0.099" stop-color="#c9c2f0"/><stop offset="0.123" stop-color="#cac3f0"/><stop offset="0.148" stop-color="#cbc5f0"/><stop offset="0.172" stop-color="#cdc6f0"/><stop offset="0.196" stop-color="#cfc8f0"/><stop offset="0.220" stop-color="#d0caf0"/><stop offset="0.244" stop-color="#d2ccf0"/><stop offset="0.268" stop-color="#d4cef0"/><stop offset="0.291" stop-color="#d6d0f1"/><stop offset="0.315" stop-color="#d8d2f1"/><stop offset="0.339" stop-color="#dad4f1"/><stop offset="0.362" stop-color="#dcd6f1"/><stop offset="0.385" stop-color="#ddd8f1"/><stop offset="0.408" stop-color="#dfdaf1"/><stop offset="0.432" stop-color="#e1dbf1"/><stop offset="0.455" stop-color="#e2ddf1"/><stop offset="0.478" stop-color="#e4dff1"/><stop offset="0.500" stop-color="#e5e0f1"/><stop offset="0.523" stop-color="#e6e2f1"/><stop offset="0.546" stop-color="#e8e3f1"/><stop offset="0.568" stop-color="#e9e4f1"/><stop offset="0.591" stop-color="#eae5f1"/><stop offset="0.613" stop-color="#ebe6f1"/><stop offset="0.635" stop-color="#ebe7f1"/><stop offset="0.657" stop-color="#ece8f1"/><stop offset="0.680" stop-color="#ede9f1"/><stop offset="0.701" stop-color="#ede9f1"/><stop offset="0.723" stop-color="#eeeaf1"/><stop offset="0.745" stop-color="#eeeaf1"/><stop offset="0.767" stop-color="#efebf1"/><stop offset="0.810" stop-color="#efebf1"/><stop offset="0.832" stop-color="#f0ecf1"/><stop offset="0.916" stop-color="#f0ecf1"/><stop offset="0.937" stop-color="#f1ecf1"/><stop offset="0.958" stop-color="#f1edf1"/><stop offset="1.000" stop-color="#f1edf1"/></linearGradient><linearGradient id="g56" gradientUnits="userSpaceOnUse" x1="635.5" y1="730.1" x2="519.0" y2="341.9"><stop offset="0.000" stop-color="#c8c1f0"/><stop offset="0.025" stop-color="#c8c1f0"/><stop offset="0.050" stop-color="#c9c2f0"/><stop offset="0.074" stop-color="#cac3f0"/><stop offset="0.099" stop-color="#cbc5f0"/><stop offset="0.123" stop-color="#cdc6f0"/><stop offset="0.148" stop-color="#cec7f0"/><stop offset="0.172" stop-color="#cfc9f0"/><stop offset="0.196" stop-color="#d1cbf0"/><stop offset="0.220" stop-color="#d3ccf0"/><stop offset="0.244" stop-color="#d4cef0"/><stop offset="0.268" stop-color="#d6d0f1"/><stop offset="0.291" stop-color="#d8d2f1"/><stop offset="0.315" stop-color="#d9d4f1"/><stop offset="0.339" stop-color="#dbd5f1"/><stop offset="0.362" stop-color="#ddd7f1"/><stop offset="0.385" stop-color="#ded9f1"/><stop offset="0.408" stop-color="#e0daf1"/><stop offset="0.432" stop-color="#e1dcf1"/><stop offset="0.455" stop-color="#e3def1"/><stop offset="0.478" stop-color="#e4dff1"/><stop offset="0.500" stop-color="#e5e0f1"/><stop offset="0.523" stop-color="#e6e2f1"/><stop offset="0.546" stop-color="#e8e3f1"/><stop offset="0.568" stop-color="#e9e4f1"/><stop offset="0.591" stop-color="#eae5f1"/><stop offset="0.613" stop-color="#eae6f1"/><stop offset="0.635" stop-color="#ebe7f1"/><stop offset="0.657" stop-color="#ece8f1"/><stop offset="0.680" stop-color="#ede8f1"/><stop offset="0.701" stop-color="#ede9f1"/><stop offset="0.723" stop-color="#eee9f1"/><stop offset="0.745" stop-color="#eeeaf1"/><stop offset="0.767" stop-color="#efeaf1"/><stop offset="0.789" stop-color="#efebf1"/><stop offset="0.810" stop-color="#efebf1"/><stop offset="0.832" stop-color="#f0ebf1"/><stop offset="0.853" stop-color="#f0ecf1"/><stop offset="0.937" stop-color="#f0ecf1"/><stop offset="0.958" stop-color="#f1ecf1"/><stop offset="0.979" stop-color="#f1edf1"/><stop offset="1.000" stop-color="#f1edf1"/></linearGradient><linearGradient id="g57" gradientUnits="userSpaceOnUse" x1="643.6" y1="729.1" x2="526.4" y2="341.0"><stop offset="0.000" stop-color="#cac3f0"/><stop offset="0.025" stop-color="#cbc4f0"/><stop offset="0.050" stop-color="#ccc5f0"/><stop offset="0.074" stop-color="#cdc6f0"/><stop offset="0.099" stop-color="#cec7f0"/><stop offset="0.123" stop-color="#cfc9f0"/><stop offset="0.148" stop-color="#d0caf0"/><stop offset="0.172" stop-color="#d2ccf0"/><stop offset="0.196" stop-color="#d3cdf0"/><stop offset="0.220" stop-color="#d5cff0"/><stop offset="0.244" stop-color="#d6d0f1"/><stop offset="0.268" stop-color="#d8d2f1"/><stop offset="0.291" stop-color="#d9d3f1"/><stop offset="0.315" stop-color="#dbd5f1"/><stop offset="0.339" stop-color="#dcd7f1"/><stop offset="0.362" stop-color="#ded8f1"/><stop offset="0.385" stop-color="#dfdaf1"/><stop offset="0.408" stop-color="#e1dbf1"/><stop offset="0.432" stop-color="#e2ddf1"/><stop offset="0.455" stop-color="#e3def1"/><stop offset="0.478" stop-color="#e4e0f1"/><stop offset="0.500" stop-color="#e6e1f1"/><stop offset="0.523" stop-color="#e7e2f1"/><stop offset="0.546" stop-color="#e8e3f1"/><stop offset="0.568" stop-color="#e9e4f1"/><stop offset="0.591" stop-color="#eae5f1"/><stop offset="0.613" stop-color="#eae6f1"/><stop offset="0.635" stop-color="#ebe7f1"/><stop offset="0.657" stop-color="#ece7f1"/><stop offset="0.680" stop-color="#ece8f1"/><stop offset="0.701" stop-color="#ede9f1"/><stop offset="0.723" stop-color="#eee9f1"/><stop offset="0.745" stop-color="#eeeaf1"/><stop offset="0.767" stop-color="#eeeaf1"/><stop offset="0.789" stop-color="#efebf1"/><stop offset="0.832" stop-color="#efebf1"/><stop offset="0.853" stop-color="#f0ebf1"/><stop offset="0.874" stop-color="#f0ecf1"/><stop offset="0.979" stop-color="#f0ecf1"/><stop offset="1.000" stop-color="#f1edf1"/></linearGradient><linearGradient id="g58" gradientUnits="userSpaceOnUse" x1="651.8" y1="728.0" x2="533.9" y2="340.2"><stop offset="0.000" stop-color="#cdc6f0"/><stop offset="0.025" stop-color="#cec7f0"/><stop offset="0.050" stop-color="#cfc8f0"/><stop offset="0.074" stop-color="#d0c9f0"/><stop offset="0.099" stop-color="#d1caf0"/><stop offset="0.123" stop-color="#d2ccf0"/><stop offset="0.148" stop-color="#d3cdf0"/><stop offset="0.172" stop-color="#d4cef0"/><stop offset="0.196" stop-color="#d5cff0"/><stop offset="0.220" stop-color="#d7d1f1"/><stop offset="0.244" stop-color="#d8d2f1"/><stop offset="0.268" stop-color="#dad4f1"/><stop offset="0.291" stop-color="#dbd5f1"/><stop offset="0.315" stop-color="#dcd7f1"/><stop offset="0.339" stop-color="#ded8f1"/><stop offset="0.362" stop-color="#dfdaf1"/><stop offset="0.385" stop-color="#e0dbf1"/><stop offset="0.408" stop-color="#e1dcf1"/><stop offset="0.432" stop-color="#e3def1"/><stop offset="0.455" stop-color="#e4dff1"/><stop offset="0.477" stop-color="#e5e0f1"/><stop offset="0.500" stop-color="#e6e1f1"/><stop offset="0.523" stop-color="#e7e2f1"/><stop offset="0.546" stop-color="#e8e3f1"/><stop offset="0.568" stop-color="#e9e4f1"/><stop offset="0.591" stop-color="#eae5f1"/><stop offset="0.613" stop-color="#eae6f1"/><stop offset="0.635" stop-color="#ebe7f1"/><stop offset="0.657" stop-color="#ece7f1"/><stop offset="0.680" stop-color="#ece8f1"/><stop offset="0.701" stop-color="#ede9f1"/><stop offset="0.723" stop-color="#ede9f1"/><stop offset="0.745" stop-color="#eeeaf1"/><stop offset="0.767" stop-color="#eeeaf1"/><stop offset="0.789" stop-color="#efeaf1"/><stop offset="0.810" stop-color="#efebf1"/><stop offset="0.853" stop-color="#efebf1"/><stop offset="0.874" stop-color="#f0ecf1"/><stop offset="1.000" stop-color="#f0ecf1"/></linearGradient><linearGradient id="g59" gradientUnits="userSpaceOnUse" x1="660.0" y1="727.0" x2="541.4" y2="339.4"><stop offset="0.000" stop-color="#d0c9f0"/><stop offset="0.025" stop-color="#d1caf0"/><stop offset="0.050" stop-color="#d1cbf0"/><stop offset="0.074" stop-color="#d2ccf0"/><stop offset="0.099" stop-color="#d3cdf0"/><stop offset="0.123" stop-color="#d4cef0"/><stop offset="0.148" stop-color="#d5cff0"/><stop offset="0.172" stop-color="#d6d1f1"/><stop offset="0.196" stop-color="#d8d2f1"/><stop offset="0.220" stop-color="#d9d3f1"/><stop offset="0.244" stop-color="#dad4f1"/><stop offset="0.268" stop-color="#dbd6f1"/><stop offset="0.291" stop-color="#dcd7f1"/><stop offset="0.315" stop-color="#ded8f1"/><stop offset="0.339" stop-color="#dfdaf1"/><stop offset="0.362" stop-color="#e0dbf1"/><stop offset="0.385" stop-color="#e1dcf1"/><stop offset="0.408" stop-color="#e2ddf1"/><stop offset="0.432" stop-color="#e3def1"/><stop offset="0.455" stop-color="#e5e0f1"/><stop offset="0.477" stop-color="#e6e1f1"/><stop offset="0.500" stop-color="#e6e2f1"/><stop offset="0.523" stop-color="#e7e3f1"/><stop offset="0.546" stop-color="#e8e4f1"/><stop offset="0.568" stop-color="#e9e4f1"/><stop offset="0.591" stop-color="#eae5f1"/><stop offset="0.613" stop-color="#ebe6f1"/><stop offset="0.635" stop-color="#ebe7f1"/><stop offset="0.657" stop-color="#ece7f1"/><stop offset="0.679" stop-color="#ece8f1"/><stop offset="0.701" stop-color="#ede9f1"/><stop offset="0.723" stop-color="#ede9f1"/><stop offset="0.745" stop-color="#eeeaf1"/><stop offset="0.789" stop-color="#eeeaf1"/><stop offset="0.810" stop-color="#efebf1"/><stop offset="0.853" stop-color="#efebf1"/><stop offset="0.874" stop-color="#f0ebf1"/><stop offset="0.895" stop-color="#f0ecf1"/><stop offset="1.000" stop-color="#f0ecf1"/></linearGradient><linearGradient id="g60" gradientUnits="userSpaceOnUse" x1="668.1" y1="726.0" x2="548.9" y2="338.6"><stop offset="0.000" stop-color="#d2ccf0"/><stop offset="0.025" stop-color="#d3cdf0"/><stop offset="0.050" stop-color="#d4cef0"/><stop offset="0.074" stop-color="#d5cff0"/><stop offset="0.099" stop-color="#d6d0f1"/><stop offset="0.123" stop-color="#d6d1f1"/><stop offset="0.148" stop-color="#d7d2f1"/><stop offset="0.172" stop-color="#d9d3f1"/><stop offset="0.196" stop-color="#dad4f1"/><stop offset="0.220" stop-color="#dbd5f1"/><stop offset="0.244" stop-color="#dcd6f1"/><stop offset="0.268" stop-color="#ddd7f1"/><stop offset="0.291" stop-color="#ded9f1"/><stop offset="0.315" stop-color="#dfdaf1"/><stop offset="0.339" stop-color="#e0dbf1"/><stop offset="0.362" stop-color="#e1dcf1"/><stop offset="0.385" stop-color="#e2ddf1"/><stop offset="0.408" stop-color="#e3def1"/><stop offset="0.432" stop-color="#e4dff1"/><stop offset="0.455" stop-color="#e5e0f1"/><stop offset="0.477" stop-color="#e6e1f1"/><stop offset="0.500" stop-color="#e7e2f1"/><stop offset="0.523" stop-color="#e8e3f1"/><stop offset="0.546" stop-color="#e9e4f1"/><stop offset="0.568" stop-color="#e9e5f1"/><stop offset="0.591" stop-color="#eae6f1"/><stop offset="0.613" stop-color="#ebe6f1"/><stop offset="0.635" stop-color="#ebe7f1"/><stop offset="0.657" stop-color="#ece8f1"/><stop offset="0.679" stop-color="#ece8f1"/><stop offset="0.701" stop-color="#ede9f1"/><stop offset="0.723" stop-color="#ede9f1"/><stop offset="0.745" stop-color="#eeeaf1"/><stop offset="0.789" stop-color="#eeeaf1"/><stop offset="0.810" stop-color="#efebf1"/><stop offset="0.874" stop-color="#efebf1"/><stop offset="0.895" stop-color="#f0ecf1"/><stop offset="1.000" stop-color="#f0ecf1"/></linearGradient><linearGradient id="g61" gradientUnits="userSpaceOnUse" x1="676.3" y1="725.0" x2="556.3" y2="337.7"><stop offset="0.000" stop-color="#d4cef0"/><stop offset="0.025" stop-color="#d5cff0"/><stop offset="0.050" stop-color="#d6d0f1"/><stop offset="0.074" stop-color="#d7d1f1"/><stop offset="0.099" stop-color="#d7d2f1"/><stop offset="0.123" stop-color="#d8d3f1"/><stop offset="0.148" stop-color="#d9d4f1"/><stop offset="0.172" stop-color="#dad5f1"/><stop offset="0.196" stop-color="#dbd6f1"/><stop offset="0.220" stop-color="#dcd7f1"/><stop offset="0.244" stop-color="#ddd8f1"/><stop offset="0.268" stop-color="#ded9f1"/><stop offset="0.291" stop-color="#dfdaf1"/><stop offset="0.315" stop-color="#e0dbf1"/><stop offset="0.339" stop-color="#e1dcf1"/><stop offset="0.362" stop-color="#e2ddf1"/><stop offset="0.385" stop-color="#e3def1"/><stop offset="0.408" stop-color="#e4dff1"/><stop offset="0.432" stop-color="#e5e0f1"/><stop offset="0.455" stop-color="#e6e1f1"/><stop offset="0.477" stop-color="#e7e2f1"/><stop offset="0.500" stop-color="#e8e3f1"/><stop offset="0.523" stop-color="#e8e4f1"/><stop offset="0.546" stop-color="#e9e4f1"/><stop offset="0.568" stop-color="#eae5f1"/><stop offset="0.591" stop-color="#eae6f1"/><stop offset="0.613" stop-color="#ebe7f1"/><stop offset="0.635" stop-color="#ece7f1"/><stop offset="0.657" stop-color="#ece8f1"/><stop offset="0.679" stop-color="#ede8f1"/><stop offset="0.701" stop-color="#ede9f1"/><stop offset="0.723" stop-color="#ede9f1"/><stop offset="0.745" stop-color="#eeeaf1"/><stop offset="0.789" stop-color="#eeeaf1"/><stop offset="0.810" stop-color="#efebf1"/><stop offset="0.874" stop-color="#efebf1"/><stop offset="0.895" stop-color="#f0ecf1"/><stop offset="1.000" stop-color="#f0ecf1"/></linearGradient><linearGradient id="g62" gradientUnits="userSpaceOnUse" x1="684.4" y1="724.0" x2="563.8" y2="336.9"><stop offset="0.000" stop-color="#d6d0f1"/><stop offset="0.025" stop-color="#d7d1f1"/><stop offset="0.050" stop-color="#d7d2f1"/><stop offset="0.074" stop-color="#d8d2f1"/><stop offset="0.099" stop-color="#d9d3f1"/><stop offset="0.123" stop-color="#dad4f1"/><stop offset="0.148" stop-color="#dbd5f1"/><stop offset="0.172" stop-color="#dcd6f1"/><stop offset="0.196" stop-color="#ddd7f1"/><stop offset="0.220" stop-color="#ded8f1"/><stop offset="0.244" stop-color="#dfd9f1"/><stop offset="0.268" stop-color="#dfdaf1"/><stop offset="0.291" stop-color="#e0dbf1"/><stop offset="0.315" stop-color="#e1dcf1"/><stop offset="0.338" stop-color="#e2ddf1"/><stop offset="0.362" stop-color="#e3def1"/><stop offset="0.385" stop-color="#e4dff1"/><stop offset="0.408" stop-color="#e5e0f1"/><stop offset="0.432" stop-color="#e6e1f1"/><stop offset="0.455" stop-color="#e7e2f1"/><stop offset="0.477" stop-color="#e7e3f1"/><stop offset="0.500" stop-color="#e8e3f1"/><stop offset="0.523" stop-color="#e9e4f1"/><stop offset="0.546" stop-color="#e9e5f1"/><stop offset="0.568" stop-color="#eae6f1"/><stop offset="0.591" stop-color="#ebe6f1"/><stop offset="0.613" stop-color="#ebe7f1"/><stop offset="0.635" stop-color="#ece7f1"/><stop offset="0.657" stop-color="#ece8f1"/><stop offset="0.679" stop-color="#ede8f1"/><stop offset="0.701" stop-color="#ede9f1"/><stop offset="0.723" stop-color="#eee9f1"/><stop offset="0.745" stop-color="#eeeaf1"/><stop offset="0.767" stop-color="#eeeaf1"/><stop offset="0.789" stop-color="#efeaf1"/><stop offset="0.810" stop-color="#efebf1"/><stop offset="0.874" stop-color="#efebf1"/><stop offset="0.895" stop-color="#f0ecf1"/><stop offset="1.000" stop-color="#f0ecf1"/></linearGradient><linearGradient id="g63" gradientUnits="userSpaceOnUse" x1="692.6" y1="723.0" x2="571.3" y2="336.1"><stop offset="0.000" stop-color="#d7d2f1"/><stop offset="0.025" stop-color="#d8d2f1"/><stop offset="0.050" stop-color="#d9d3f1"/><stop offset="0.074" stop-color="#dad4f1"/><stop offset="0.099" stop-color="#dad5f1"/><stop offset="0.123" stop-color="#dbd6f1"/><stop offset="0.148" stop-color="#dcd7f1"/><stop offset="0.172" stop-color="#ddd8f1"/><stop offset="0.196" stop-color="#ded8f1"/><stop offset="0.220" stop-color="#dfd9f1"/><stop offset="0.244" stop-color="#e0daf1"/><stop offset="0.268" stop-color="#e1dbf1"/><stop offset="0.291" stop-color="#e1dcf1"/><stop offset="0.315" stop-color="#e2ddf1"/><stop offset="0.338" stop-color="#e3def1"/><stop offset="0.362" stop-color="#e4dff1"/><stop offset="0.385" stop-color="#e5e0f1"/><stop offset="0.408" stop-color="#e6e1f1"/><stop offset="0.432" stop-color="#e6e2f1"/><stop offset="0.455" stop-color="#e7e2f1"/><stop offset="0.477" stop-color="#e8e3f1"/><stop offset="0.500" stop-color="#e9e4f1"/><stop offset="0.523" stop-color="#e9e5f1"/><stop offset="0.546" stop-color="#eae5f1"/><stop offset="0.568" stop-color="#eae6f1"/><stop offset="0.591" stop-color="#ebe7f1"/><stop offset="0.613" stop-color="#ece7f1"/><stop offset="0.635" stop-color="#ece8f1"/><stop offset="0.657" stop-color="#ece8f1"/><stop offset="0.679" stop-color="#ede9f1"/><stop offset="0.701" stop-color="#ede9f1"/><stop offset="0.723" stop-color="#eee9f1"/><stop offset="0.745" stop-color="#eeeaf1"/><stop offset="0.767" stop-color="#eeeaf1"/><stop offset="0.788" stop-color="#efeaf1"/><stop offset="0.810" stop-color="#efebf1"/><stop offset="0.853" stop-color="#efebf1"/><stop offset="0.874" stop-color="#f0ebf1"/><stop offset="0.895" stop-color="#f0ecf1"/><stop offset="1.000" stop-color="#f0ecf1"/></linearGradient><linearGradient id="g64" gradientUnits="userSpaceOnUse" x1="700.7" y1="722.0" x2="578.7" y2="335.2"><stop offset="0.000" stop-color="#d9d3f1"/><stop offset="0.025" stop-color="#d9d4f1"/><stop offset="0.050" stop-color="#dad5f1"/><stop offset="0.074" stop-color="#dbd5f1"/><stop offset="0.099" stop-color="#dcd6f1"/><stop offset="0.123" stop-color="#ddd7f1"/><stop offset="0.148" stop-color="#ddd8f1"/><stop offset="0.172" stop-color="#ded9f1"/><stop offset="0.196" stop-color="#dfdaf1"/><stop offset="0.220" stop-color="#e0dbf1"/><stop offset="0.244" stop-color="#e1dcf1"/><stop offset="0.268" stop-color="#e2dcf1"/><stop offset="0.291" stop-color="#e2ddf1"/><stop offset="0.315" stop-color="#e3def1"/><stop offset="0.338" stop-color="#e4dff1"/><stop offset="0.362" stop-color="#e5e0f1"/><stop offset="0.385" stop-color="#e6e1f1"/><stop offset="0.408" stop-color="#e6e2f1"/><stop offset="0.432" stop-color="#e7e2f1"/><stop offset="0.455" stop-color="#e8e3f1"/><stop offset="0.477" stop-color="#e8e4f1"/><stop offset="0.500" stop-color="#e9e5f1"/><stop offset="0.523" stop-color="#eae5f1"/><stop offset="0.546" stop-color="#eae6f1"/><stop offset="0.568" stop-color="#ebe6f1"/><stop offset="0.591" stop-color="#ebe7f1"/><stop offset="0.613" stop-color="#ece7f1"/><stop offset="0.635" stop-color="#ece8f1"/><stop offset="0.657" stop-color="#ede8f1"/><stop offset="0.679" stop-color="#ede9f1"/><stop offset="0.701" stop-color="#ede9f1"/><stop offset="0.723" stop-color="#eeeaf1"/><stop offset="0.767" stop-color="#eeeaf1"/><stop offset="0.788" stop-color="#efebf1"/><stop offset="0.853" stop-color="#efebf1"/><stop offset="0.874" stop-color="#f0ebf1"/><stop offset="0.895" stop-color="#f0ecf1"/><stop offset="1.000" stop-color="#f0ecf1"/></linearGradient><linearGradient id="g65" gradientUnits="userSpaceOnUse" x1="708.9" y1="721.0" x2="586.2" y2="334.4"><stop offset="0.000" stop-color="#dad4f1"/><stop offset="0.025" stop-color="#dbd5f1"/><stop offset="0.050" stop-color="#dcd6f1"/><stop offset="0.074" stop-color="#dcd7f1"/><stop offset="0.099" stop-color="#ddd8f1"/><stop offset="0.123" stop-color="#ded8f1"/><stop offset="0.148" stop-color="#dfd9f1"/><stop offset="0.172" stop-color="#dfdaf1"/><stop offset="0.196" stop-color="#e0dbf1"/><stop offset="0.220" stop-color="#e1dcf1"/><stop offset="0.244" stop-color="#e2ddf1"/><stop offset="0.268" stop-color="#e3ddf1"/><stop offset="0.291" stop-color="#e3def1"/><stop offset="0.315" stop-color="#e4dff1"/><stop offset="0.338" stop-color="#e5e0f1"/><stop offset="0.362" stop-color="#e6e1f1"/><stop offset="0.385" stop-color="#e6e2f1"/><stop offset="0.408" stop-color="#e7e2f1"/><stop offset="0.432" stop-color="#e8e3f1"/><stop offset="0.455" stop-color="#e8e4f1"/><stop offset="0.477" stop-color="#e9e4f1"/><stop offset="0.500" stop-color="#eae5f1"/><stop offset="0.523" stop-color="#eae6f1"/><stop offset="0.546" stop-color="#ebe6f1"/><stop offset="0.568" stop-color="#ebe7f1"/><stop offset="0.591" stop-color="#ece7f1"/><stop offset="0.613" stop-color="#ece8f1"/><stop offset="0.635" stop-color="#ede8f1"/><stop offset="0.657" stop-color="#ede9f1"/><stop offset="0.679" stop-color="#ede9f1"/><stop offset="0.701" stop-color="#eee9f1"/><stop offset="0.723" stop-color="#eeeaf1"/><stop offset="0.745" stop-color="#eeeaf1"/><stop offset="0.767" stop-color="#efeaf1"/><stop offset="0.788" stop-color="#efebf1"/><stop offset="0.853" stop-color="#efebf1"/><stop offset="0.874" stop-color="#f0ebf1"/><stop offset="0.895" stop-color="#f0ecf1"/><stop offset="1.000" stop-color="#f0ecf1"/></linearGradient><linearGradient id="g66" gradientUnits="userSpaceOnUse" x1="717.0" y1="720.0" x2="593.6" y2="333.6"><stop offset="0.000" stop-color="#dbd6f1"/><stop offset="0.025" stop-color="#dcd7f1"/><stop offset="0.050" stop-color="#ddd7f1"/><stop offset="0.074" stop-color="#ddd8f1"/><stop offset="0.099" stop-color="#ded9f1"/><stop offset="0.123" stop-color="#dfdaf1"/><stop offset="0.148" stop-color="#e0daf1"/><stop offset="0.172" stop-color="#e0dbf1"/><stop offset="0.196" stop-color="#e1dcf1"/><stop offset="0.220" stop-color="#e2ddf1"/><stop offset="0.244" stop-color="#e3def1"/><stop offset="0.268" stop-color="#e3def1"/><stop offset="0.291" stop-color="#e4dff1"/><stop offset="0.315" stop-color="#e5e0f1"/><stop offset="0.338" stop-color="#e6e1f1"/><stop offset="0.362" stop-color="#e6e2f1"/><stop offset="0.385" stop-color="#e7e2f1"/><stop offset="0.408" stop-color="#e8e3f1"/><stop offset="0.432" stop-color="#e8e4f1"/><stop offset="0.455" stop-color="#e9e4f1"/><stop offset="0.477" stop-color="#e9e5f1"/><stop offset="0.500" stop-color="#eae5f1"/><stop offset="0.523" stop-color="#ebe6f1"/><stop offset="0.546" stop-color="#ebe7f1"/><stop offset="0.568" stop-color="#ebe7f1"/><stop offset="0.591" stop-color="#ece8f1"/><stop offset="0.613" stop-color="#ece8f1"/><stop offset="0.635" stop-color="#ede8f1"/><stop offset="0.657" stop-color="#ede9f1"/><stop offset="0.679" stop-color="#ede9f1"/><stop offset="0.701" stop-color="#eeeaf1"/><stop offset="0.745" stop-color="#eeeaf1"/><stop offset="0.767" stop-color="#efeaf1"/><stop offset="0.788" stop-color="#efebf1"/><stop offset="0.853" stop-color="#efebf1"/><stop offset="0.874" stop-color="#f0ecf1"/><stop offset="1.000" stop-color="#f0ecf1"/></linearGradient><linearGradient id="g67" gradientUnits="userSpaceOnUse" x1="725.1" y1="719.0" x2="601.1" y2="332.8"><stop offset="0.000" stop-color="#ddd7f1"/><stop offset="0.025" stop-color="#ddd8f1"/><stop offset="0.050" stop-color="#ded9f1"/><stop offset="0.074" stop-color="#dfd9f1"/><stop offset="0.099" stop-color="#dfdaf1"/><stop offset="0.123" stop-color="#e0dbf1"/><stop offset="0.148" stop-color="#e1dcf1"/><stop offset="0.172" stop-color="#e1dcf1"/><stop offset="0.196" stop-color="#e2ddf1"/><stop offset="0.220" stop-color="#e3def1"/><stop offset="0.244" stop-color="#e4dff1"/><stop offset="0.268" stop-color="#e4dff1"/><stop offset="0.291" stop-color="#e5e0f1"/><stop offset="0.315" stop-color="#e6e1f1"/><stop offset="0.338" stop-color="#e6e2f1"/><stop offset="0.362" stop-color="#e7e2f1"/><stop offset="0.385" stop-color="#e8e3f1"/><stop offset="0.408" stop-color="#e8e4f1"/><stop offset="0.432" stop-color="#e9e4f1"/><stop offset="0.455" stop-color="#e9e5f1"/><stop offset="0.477" stop-color="#eae5f1"/><stop offset="0.500" stop-color="#eae6f1"/><stop offset="0.523" stop-color="#ebe6f1"/><stop offset="0.546" stop-color="#ebe7f1"/><stop offset="0.568" stop-color="#ece7f1"/><stop offset="0.591" stop-color="#ece8f1"/><stop offset="0.613" stop-color="#ede8f1"/><stop offset="0.635" stop-color="#ede9f1"/><stop offset="0.657" stop-color="#ede9f1"/><stop offset="0.679" stop-color="#eee9f1"/><stop offset="0.701" stop-color="#eeeaf1"/><stop offset="0.723" stop-color="#eeeaf1"/><stop offset="0.745" stop-color="#efeaf1"/><stop offset="0.767" stop-color="#efebf1"/><stop offset="0.831" stop-color="#efebf1"/><stop offset="0.853" stop-color="#f0ebf1"/><stop offset="0.874" stop-color="#f0ecf1"/><stop offset="1.000" stop-color="#f0ecf1"/></linearGradient><linearGradient id="g68" gradientUnits="userSpaceOnUse" x1="733.3" y1="718.0" x2="608.5" y2="331.9"><stop offset="0.000" stop-color="#ded8f1"/><stop offset="0.025" stop-color="#ded9f1"/><stop offset="0.050" stop-color="#dfdaf1"/><stop offset="0.074" stop-color="#e0daf1"/><stop offset="0.099" stop-color="#e0dbf1"/><stop offset="0.123" stop-color="#e1dcf1"/><stop offset="0.148" stop-color="#e2ddf1"/><stop offset="0.172" stop-color="#e2ddf1"/><stop offset="0.196" stop-color="#e3def1"/><stop offset="0.220" stop-color="#e4dff1"/><stop offset="0.244" stop-color="#e4dff1"/><stop offset="0.268" stop-color="#e5e0f1"/><stop offset="0.291" stop-color="#e6e1f1"/><stop offset="0.315" stop-color="#e6e2f1"/><stop offset="0.338" stop-color="#e7e2f1"/><stop offset="0.362" stop-color="#e8e3f1"/><stop offset="0.385" stop-color="#e8e4f1"/><stop offset="0.408" stop-color="#e9e4f1"/><stop offset="0.432" stop-color="#e9e5f1"/><stop offset="0.455" stop-color="#eae5f1"/><stop offset="0.477" stop-color="#eae6f1"/><stop offset="0.500" stop-color="#ebe6f1"/><stop offset="0.523" stop-color="#ebe7f1"/><stop offset="0.546" stop-color="#ece7f1"/><stop offset="0.568" stop-color="#ece8f1"/><stop offset="0.591" stop-color="#ede8f1"/><stop offset="0.613" stop-color="#ede9f1"/><stop offset="0.635" stop-color="#ede9f1"/><stop offset="0.657" stop-color="#eee9f1"/><stop offset="0.679" stop-color="#eeeaf1"/><stop offset="0.723" stop-color="#eeeaf1"/><stop offset="0.745" stop-color="#efeaf1"/><stop offset="0.767" stop-color="#efebf1"/><stop offset="0.831" stop-color="#efebf1"/><stop offset="0.853" stop-color="#f0ecf1"/><stop offset="1.000" stop-color="#f0ecf1"/></linearGradient><linearGradient id="g69" gradientUnits="userSpaceOnUse" x1="741.4" y1="716.9" x2="615.9" y2="331.1"><stop offset="0.000" stop-color="#dfd9f1"/><stop offset="0.025" stop-color="#dfdaf1"/><stop offset="0.050" stop-color="#e0dbf1"/><stop offset="0.074" stop-color="#e1dbf1"/><stop offset="0.099" stop-color="#e1dcf1"/><stop offset="0.123" stop-color="#e2ddf1"/><stop offset="0.148" stop-color="#e3def1"/><stop offset="0.172" stop-color="#e3def1"/><stop offset="0.196" stop-color="#e4dff1"/><stop offset="0.220" stop-color="#e5e0f1"/><stop offset="0.244" stop-color="#e5e0f1"/><stop offset="0.268" stop-color="#e6e1f1"/><stop offset="0.291" stop-color="#e6e2f1"/><stop offset="0.315" stop-color="#e7e2f1"/><stop offset="0.338" stop-color="#e8e3f1"/><stop offset="0.362" stop-color="#e8e4f1"/><stop offset="0.385" stop-color="#e9e4f1"/><stop offset="0.408" stop-color="#e9e5f1"/><stop offset="0.431" stop-color="#eae5f1"/><stop offset="0.455" stop-color="#eae6f1"/><stop offset="0.477" stop-color="#ebe6f1"/><stop offset="0.500" stop-color="#ebe7f1"/><stop offset="0.523" stop-color="#ece7f1"/><stop offset="0.546" stop-color="#ece8f1"/><stop offset="0.568" stop-color="#ece8f1"/><stop offset="0.591" stop-color="#ede8f1"/><stop offset="0.613" stop-color="#ede9f1"/><stop offset="0.635" stop-color="#ede9f1"/><stop offset="0.657" stop-color="#eeeaf1"/><stop offset="0.701" stop-color="#eeeaf1"/><stop offset="0.723" stop-color="#efeaf1"/><stop offset="0.745" stop-color="#efebf1"/><stop offset="0.810" stop-color="#efebf1"/><stop offset="0.831" stop-color="#f0ebf1"/><stop offset="0.853" stop-color="#f0ecf1"/><stop offset="1.000" stop-color="#f0ecf1"/></linearGradient><linearGradient id="g70" gradientUnits="userSpaceOnUse" x1="749.5" y1="715.9" x2="623.4" y2="330.3"><stop offset="0.000" stop-color="#e0daf1"/><stop offset="0.025" stop-color="#e0dbf1"/><stop offset="0.050" stop-color="#e1dcf1"/><stop offset="0.074" stop-color="#e1dcf1"/><stop offset="0.099" stop-color="#e2ddf1"/><stop offset="0.123" stop-color="#e3def1"/><stop offset="0.148" stop-color="#e3def1"/><stop offset="0.172" stop-color="#e4dff1"/><stop offset="0.196" stop-color="#e5e0f1"/><stop offset="0.220" stop-color="#e5e0f1"/><stop offset="0.244" stop-color="#e6e1f1"/><stop offset="0.268" stop-color="#e6e2f1"/><stop offset="0.291" stop-color="#e7e2f1"/><stop offset="0.315" stop-color="#e8e3f1"/><stop offset="0.338" stop-color="#e8e4f1"/><stop offset="0.362" stop-color="#e9e4f1"/><stop offset="0.385" stop-color="#e9e5f1"/><stop offset="0.408" stop-color="#eae5f1"/><stop offset="0.431" stop-color="#eae6f1"/><stop offset="0.455" stop-color="#ebe6f1"/><stop offset="0.477" stop-color="#ebe7f1"/><stop offset="0.500" stop-color="#ece7f1"/><stop offset="0.523" stop-color="#ece8f1"/><stop offset="0.546" stop-color="#ece8f1"/><stop offset="0.568" stop-color="#ede8f1"/><stop offset="0.591" stop-color="#ede9f1"/><stop offset="0.613" stop-color="#ede9f1"/><stop offset="0.635" stop-color="#eee9f1"/><stop offset="0.657" stop-color="#eeeaf1"/><stop offset="0.701" stop-color="#eeeaf1"/><stop offset="0.723" stop-color="#efebf1"/><stop offset="0.810" stop-color="#efebf1"/><stop offset="0.831" stop-color="#f0ecf1"/><stop offset="1.000" stop-color="#f0ecf1"/></linearGradient><linearGradient id="g71" gradientUnits="userSpaceOnUse" x1="757.6" y1="714.9" x2="630.8" y2="329.5"><stop offset="0.000" stop-color="#e1dbf1"/><stop offset="0.025" stop-color="#e1dcf1"/><stop offset="0.050" stop-color="#e2ddf1"/><stop offset="0.074" stop-color="#e2ddf1"/><stop offset="0.099" stop-color="#e3def1"/><stop offset="0.123" stop-color="#e4dff1"/><stop offset="0.148" stop-color="#e4dff1"/><stop offset="0.172" stop-color="#e5e0f1"/><stop offset="0.196" stop-color="#e5e0f1"/><stop offset="0.220" stop-color="#e6e1f1"/><stop offset="0.244" stop-color="#e7e2f1"/><stop offset="0.268" stop-color="#e7e2f1"/><stop offset="0.291" stop-color="#e8e3f1"/><stop offset="0.315" stop-color="#e8e4f1"/><stop offset="0.338" stop-color="#e9e4f1"/><stop offset="0.362" stop-color="#e9e5f1"/><stop offset="0.385" stop-color="#eae5f1"/><stop offset="0.408" stop-color="#eae6f1"/><stop offset="0.431" stop-color="#ebe6f1"/><stop offset="0.455" stop-color="#ebe7f1"/><stop offset="0.477" stop-color="#ece7f1"/><stop offset="0.500" stop-color="#ece8f1"/><stop offset="0.523" stop-color="#ece8f1"/><stop offset="0.546" stop-color="#ede8f1"/><stop offset="0.568" stop-color="#ede9f1"/><stop offset="0.591" stop-color="#ede9f1"/><stop offset="0.613" stop-color="#eee9f1"/><stop offset="0.635" stop-color="#eeeaf1"/><stop offset="0.679" stop-color="#eeeaf1"/><stop offset="0.701" stop-color="#efeaf1"/><stop offset="0.723" stop-color="#efebf1"/><stop offset="0.788" stop-color="#efebf1"/><stop offset="0.810" stop-color="#f0ebf1"/><stop offset="0.831" stop-color="#f0ecf1"/><stop offset="1.000" stop-color="#f0ecf1"/></linearGradient><clipPath id="sc"><path d="M177.0 770.4L743.6 700.5L626.8 343.4L105.3 401.5Z"/></clipPath><filter id="bl" x="-5%" y="-5%" width="110%" height="110%"><feGaussianBlur stdDeviation="2.6"/></filter><linearGradient id="cb" x1="0" y1="1" x2="0" y2="0"><stop offset="0" stop-color="#f1edf1"/><stop offset="1" stop-color="#bab2f0"/></linearGradient></defs>
<rect width="1000" height="835" fill="#fff"/>
<g clip-path="url(#sc)"><g id="surface" filter="url(#bl)"><path d="M166.6 788.1L176.1 787.0L99.1 388.5L90.4 389.4Z" fill="url(#g0)"/><path d="M175.0 787.1L184.5 785.9L106.7 387.6L98.1 388.6Z" fill="url(#g1)"/><path d="M183.4 786.1L192.9 784.9L114.4 386.8L105.8 387.7Z" fill="url(#g2)"/><path d="M191.8 785.0L201.3 783.8L122.1 385.9L113.4 386.9Z" fill="url(#g3)"/><path d="M200.2 784.0L209.7 782.8L129.8 385.1L121.1 386.0Z" fill="url(#g4)"/><path d="M208.6 782.9L218.1 781.8L137.4 384.2L128.8 385.2Z" fill="url(#g5)"/><path d="M217.0 781.9L226.5 780.7L145.1 383.4L136.5 384.3Z" fill="url(#g6)"/><path d="M225.4 780.9L234.9 779.7L152.8 382.5L144.1 383.5Z" fill="url(#g7)"/><path d="M233.8 779.8L243.3 778.6L160.4 381.7L151.8 382.6Z" fill="url(#g8)"/><path d="M242.2 778.8L251.7 777.6L168.1 380.8L159.4 381.8Z" fill="url(#g9)"/><path d="M250.6 777.7L260.0 776.6L175.7 380.0L167.1 380.9Z" fill="url(#g10)"/><path d="M259.0 776.7L268.4 775.5L183.4 379.1L174.7 380.1Z" fill="url(#g11)"/><path d="M267.3 775.7L276.8 774.5L191.0 378.3L182.4 379.2Z" fill="url(#g12)"/><path d="M275.7 774.6L285.2 773.5L198.7 377.4L190.0 378.4Z" fill="url(#g13)"/><path d="M284.1 773.6L293.5 772.4L206.3 376.6L197.7 377.5Z" fill="url(#g14)"/><path d="M292.4 772.6L301.9 771.4L213.9 375.7L205.3 376.7Z" fill="url(#g15)"/><path d="M300.8 771.5L310.2 770.4L221.5 374.9L212.9 375.8Z" fill="url(#g16)"/><path d="M309.1 770.5L318.6 769.3L229.2 374.0L220.6 375.0Z" fill="url(#g17)"/><path d="M317.5 769.5L326.9 768.3L236.8 373.2L228.2 374.1Z" fill="url(#g18)"/><path d="M325.8 768.4L335.2 767.3L244.4 372.3L235.8 373.3Z" fill="url(#g19)"/><path d="M334.2 767.4L343.6 766.2L252.0 371.5L243.4 372.5Z" fill="url(#g20)"/><path d="M342.5 766.4L351.9 765.2L259.6 370.7L251.0 371.6Z" fill="url(#g21)"/><path d="M350.8 765.3L360.2 764.2L267.2 369.8L258.7 370.8Z" fill="url(#g22)"/><path d="M359.1 764.3L368.5 763.1L274.8 369.0L266.3 369.9Z" fill="url(#g23)"/><path d="M367.5 763.3L376.8 762.1L282.4 368.1L273.9 369.1Z" fill="url(#g24)"/><path d="M375.8 762.2L385.2 761.1L290.0 367.3L281.5 368.2Z" fill="url(#g25)"/><path d="M384.1 761.2L393.5 760.0L297.6 366.4L289.1 367.4Z" fill="url(#g26)"/><path d="M392.4 760.2L401.8 759.0L305.2 365.6L296.6 366.5Z" fill="url(#g27)"/><path d="M400.7 759.1L410.1 758.0L312.8 364.8L304.2 365.7Z" fill="url(#g28)"/><path d="M409.0 758.1L418.4 757.0L320.4 363.9L311.8 364.9Z" fill="url(#g29)"/><path d="M417.3 757.1L426.6 755.9L327.9 363.1L319.4 364.0Z" fill="url(#g30)"/><path d="M425.6 756.1L434.9 754.9L335.5 362.2L327.0 363.2Z" fill="url(#g31)"/><path d="M433.9 755.0L443.2 753.9L343.1 361.4L334.5 362.3Z" fill="url(#g32)"/><path d="M442.1 754.0L451.5 752.9L350.7 360.6L342.1 361.5Z" fill="url(#g33)"/><path d="M450.4 753.0L459.7 751.8L358.2 359.7L349.7 360.7Z" fill="url(#g34)"/><path d="M458.7 752.0L468.0 750.8L365.8 358.9L357.2 359.8Z" fill="url(#g35)"/><path d="M467.0 750.9L476.3 749.8L373.3 358.0L364.8 359.0Z" fill="url(#g36)"/><path d="M475.2 749.9L484.5 748.8L380.9 357.2L372.4 358.1Z" fill="url(#g37)"/><path d="M483.5 748.9L492.8 747.7L388.4 356.4L379.9 357.3Z" fill="url(#g38)"/><path d="M491.7 747.9L501.0 746.7L396.0 355.5L387.5 356.5Z" fill="url(#g39)"/><path d="M500.0 746.9L509.3 745.7L403.5 354.7L395.0 355.6Z" fill="url(#g40)"/><path d="M508.2 745.8L517.5 744.7L411.0 353.9L402.5 354.8Z" fill="url(#g41)"/><path d="M516.5 744.8L525.8 743.7L418.6 353.0L410.1 354.0Z" fill="url(#g42)"/><path d="M524.7 743.8L534.0 742.6L426.1 352.2L417.6 353.1Z" fill="url(#g43)"/><path d="M532.9 742.8L542.2 741.6L433.6 351.3L425.1 352.3Z" fill="url(#g44)"/><path d="M541.2 741.7L550.4 740.6L441.2 350.5L432.7 351.5Z" fill="url(#g45)"/><path d="M549.4 740.7L558.7 739.6L448.7 349.7L440.2 350.6Z" fill="url(#g46)"/><path d="M557.6 739.7L566.9 738.6L456.2 348.8L447.7 349.8Z" fill="url(#g47)"/><path d="M565.8 738.7L575.1 737.5L463.7 348.0L455.2 348.9Z" fill="url(#g48)"/><path d="M574.0 737.7L583.3 736.5L471.2 347.2L462.7 348.1Z" fill="url(#g49)"/><path d="M582.2 736.7L591.5 735.5L478.7 346.3L470.2 347.3Z" fill="url(#g50)"/><path d="M590.4 735.6L599.7 734.5L486.2 345.5L477.7 346.4Z" fill="url(#g51)"/><path d="M598.6 734.6L607.9 733.5L493.7 344.7L485.2 345.6Z" fill="url(#g52)"/><path d="M606.8 733.6L616.1 732.5L501.2 343.8L492.7 344.8Z" fill="url(#g53)"/><path d="M615.0 732.6L624.2 731.5L508.7 343.0L500.2 344.0Z" fill="url(#g54)"/><path d="M623.2 731.6L632.4 730.4L516.2 342.2L507.7 343.1Z" fill="url(#g55)"/><path d="M631.4 730.6L640.6 729.4L523.7 341.4L515.2 342.3Z" fill="url(#g56)"/><path d="M639.5 729.6L648.8 728.4L531.1 340.5L522.7 341.5Z" fill="url(#g57)"/><path d="M647.7 728.5L656.9 727.4L538.6 339.7L530.2 340.6Z" fill="url(#g58)"/><path d="M655.9 727.5L665.1 726.4L546.1 338.9L537.7 339.8Z" fill="url(#g59)"/><path d="M664.1 726.5L673.3 725.4L553.6 338.0L545.1 339.0Z" fill="url(#g60)"/><path d="M672.2 725.5L681.4 724.4L561.0 337.2L552.6 338.1Z" fill="url(#g61)"/><path d="M680.4 724.5L689.6 723.4L568.5 336.4L560.1 337.3Z" fill="url(#g62)"/><path d="M688.5 723.5L697.7 722.4L575.9 335.5L567.5 336.5Z" fill="url(#g63)"/><path d="M696.7 722.5L705.8 721.3L583.4 334.7L575.0 335.7Z" fill="url(#g64)"/><path d="M704.8 721.5L714.0 720.3L590.8 333.9L582.4 334.8Z" fill="url(#g65)"/><path d="M712.9 720.5L722.1 719.3L598.3 333.1L589.9 334.0Z" fill="url(#g66)"/><path d="M721.1 719.5L730.2 718.3L605.7 332.2L597.3 333.2Z" fill="url(#g67)"/><path d="M729.2 718.5L738.4 717.3L613.2 331.4L604.8 332.3Z" fill="url(#g68)"/><path d="M737.3 717.5L746.5 716.3L620.6 330.6L612.2 331.5Z" fill="url(#g69)"/><path d="M745.4 716.4L754.6 715.3L628.0 329.8L619.7 330.7Z" fill="url(#g70)"/><path d="M753.6 715.4L761.7 714.4L634.5 329.0L627.1 329.9Z" fill="url(#g71)"/></g></g>
<g stroke="#000" stroke-width="1.8" fill="none" stroke-linecap="butt" stroke-linejoin="miter">
<path d="M87 85L104.5 402L177.5 777.3L744.8 707.2"/>
<path d="M168.0 778.5L178.0 777.2"/>
<path d="M142.7 648.3L152.7 647.0"/>
<path d="M118.9 525.5L128.9 524.2"/>
<path d="M96.4 409.6L106.4 408.3"/>
<path d="M280.5 759.6L282.9 770.3"/>
<path d="M413.9 743.1L416.5 753.8"/>
<path d="M546.1 726.8L549.1 737.4"/>
<path d="M677.2 710.6L680.5 721.1"/>
</g>
<path d="M121.4 518.8L126.4 517.9L131.4 517.1L136.5 516.2L141.5 515.4L146.6 514.7L151.6 514.0L156.7 513.3L161.8 512.8L166.9 512.2L172.0 511.7L177.1 511.3L182.2 511.0L187.3 510.7L192.5 510.5L197.7 510.4L202.8 510.4L208.1 510.5L213.3 510.7L218.5 510.9L223.8 511.3L229.1 511.8L234.4 512.3L239.8 513.0L245.1 513.9L250.5 514.8L256.0 515.9L261.5 517.1L267.0 518.4L272.5 519.9L278.1 521.5L283.6 523.2L289.3 525.0L294.9 526.9L300.6 529.0L306.4 531.2L312.1 533.5L317.9 535.9L323.7 538.4L329.6 541.0L335.5 543.8L341.4 546.6L347.4 549.6L353.3 552.7L359.4 555.8L365.4 559.1L371.5 562.4L377.6 565.9L383.8 569.5L390.0 573.1L396.2 576.9L402.4 580.7L408.7 584.7L415.0 588.7L421.4 592.8L427.8 597.1L434.2 601.4L440.6 605.8L447.1 610.3L453.7 614.8L460.2 619.5L466.8 624.3L473.4 629.1L480.1 634.0L486.8 639.0L493.5 644.1L500.3 649.3L507.1 654.5L513.9 659.8L520.8 665.2L527.7 670.6L534.6 676.1L541.6 681.7L548.5 687.3L555.5 693.0L562.6 698.7L569.6 704.4L576.7 710.2L583.8 716.0L591.0 721.8" fill="none" stroke="#000" stroke-width="3.3" stroke-linecap="butt"/>
<g stroke="#000" stroke-width="1.4" stroke-dasharray="3.4 1.2" fill="none"><path d="M335.0 277.0L338.4 535.0"/><path d="M401.4 326.0L401.7 577.7"/><path d="M469.1 374.4L466.7 621.1"/><path d="M537.7 427.2L532.7 665.9"/><path d="M602.1 468.3L594.0 712.2"/></g>
<g fill="#ff1a38" stroke="#ff1a38" stroke-width="0.9" stroke-linejoin="round" opacity="0.6"><path d="M338.4 530.8L339.8 533.1L342.4 533.7L340.7 535.7L340.9 538.4L338.4 537.4L335.9 538.4L336.1 535.7L334.4 533.7L337.0 533.1Z"/><path d="M401.7 573.5L403.1 575.8L405.7 576.4L404.0 578.4L404.2 581.1L401.7 580.1L399.2 581.1L399.4 578.4L397.7 576.4L400.3 575.8Z"/><path d="M466.7 616.9L468.1 619.2L470.7 619.8L469.0 621.8L469.2 624.5L466.7 623.5L464.2 624.5L464.4 621.8L462.7 619.8L465.3 619.2Z"/><path d="M532.7 661.7L534.1 664.0L536.7 664.6L535.0 666.6L535.2 669.3L532.7 668.3L530.2 669.3L530.4 666.6L528.7 664.6L531.3 664.0Z"/><path d="M594.0 708.0L595.4 710.3L598.0 710.9L596.3 712.9L596.5 715.6L594.0 714.6L591.5 715.6L591.7 712.9L590.0 710.9L592.6 710.3Z"/></g>
<g fill="none" stroke-width="2.7" stroke-linejoin="round" stroke-linecap="butt"><path d="M163.6 376.0L172.3 367.4L181.1 359.0L189.8 350.9L198.6 342.8L207.3 335.5L216.0 328.9L224.8 321.9L233.5 315.6L242.3 310.5L251.0 305.8L259.7 301.5L268.5 296.9L277.2 292.6L286.0 288.4L294.7 283.9L303.4 279.9L312.2 276.1L320.9 272.7L329.6 269.9L338.4 267.5L347.1 265.2L355.9 262.8L364.6 260.0L373.3 256.5L382.1 253.3L390.8 250.8L399.6 248.3L408.3 245.0L417.0 241.6L425.8 238.9L434.5 236.5L443.3 234.3L452.0 232.3L460.7 230.3L469.5 228.6L478.2 227.1L487.0 225.5L495.7 224.3" stroke="#41049d"/><path d="M163.6 377.1L172.3 368.6L181.1 361.1L189.8 353.3L198.6 344.7L207.3 337.1L216.0 330.2L224.8 323.9L233.5 318.7L242.3 312.8L251.0 307.1L259.7 303.2L268.5 299.0L277.2 294.3L286.0 289.8L294.7 285.6L303.4 281.8L312.2 277.9L320.9 273.9L329.6 270.4L338.4 267.6L347.1 264.8L355.9 261.8L364.6 258.7L373.3 255.8L382.1 253.2L390.8 250.3L399.6 246.9L408.3 243.7L417.0 240.5L425.8 237.6L434.5 235.2L443.3 233.2L452.0 231.3L460.7 229.3L469.5 227.4L478.2 225.8L487.0 224.5L495.7 223.3" stroke="#7100a8"/><path d="M163.6 378.3L172.3 370.3L181.1 362.1L189.8 353.8L198.6 345.6L207.3 338.1L216.0 331.6L224.8 325.8L233.5 319.9L242.3 314.3L251.0 309.3L259.7 305.0L268.5 300.5L277.2 295.7L286.0 290.6L294.7 286.0L303.4 281.6L312.2 276.9L320.9 272.7L329.6 269.5L338.4 266.6L347.1 264.4L355.9 261.7L364.6 257.8L373.3 254.2L382.1 251.4L390.8 248.6L399.6 245.5L408.3 242.3L417.0 239.1L425.8 236.3L434.5 233.7L443.3 231.4L452.0 229.4L460.7 227.5L469.5 225.8L478.2 224.3L487.0 223.0L495.7 221.8" stroke="#9c179e"/><path d="M163.6 389.2L172.3 380.2L181.1 371.3L189.8 363.7L198.6 356.3L207.3 348.8L216.0 342.4L224.8 336.4L233.5 330.9L242.3 325.6L251.0 320.4L259.7 314.8L268.5 308.8L277.2 303.6L286.0 298.0L294.7 291.8L303.4 285.8L312.2 279.7L320.9 274.2L329.6 269.2L338.4 265.2L347.1 261.7L355.9 258.0L364.6 253.9L373.3 250.2L382.1 247.2L390.8 244.2L399.6 241.3L408.3 237.8L417.0 234.3L425.8 231.7L434.5 229.5L443.3 227.5L452.0 225.6L460.7 223.9L469.5 222.2L478.2 221.0L487.0 219.9L495.7 218.7" stroke="#bf3984"/><path d="M163.6 391.1L172.3 382.4L181.1 373.2L189.8 365.2L198.6 357.5L207.3 350.3L216.0 344.5L224.8 338.8L233.5 333.0L242.3 327.5L251.0 322.2L259.7 316.6L268.5 310.5L277.2 304.0L286.0 298.1L294.7 292.7L303.4 286.7L312.2 280.1L320.9 273.9L329.6 268.0L338.4 263.9L347.1 260.6L355.9 256.7L364.6 252.4L373.3 248.5L382.1 245.1L390.8 241.9L399.6 238.7L408.3 235.0L417.0 231.7L425.8 229.5L434.5 227.4L443.3 225.3L452.0 223.5L460.7 221.9L469.5 220.4L478.2 219.0L487.0 217.7L495.7 216.6" stroke="#da5b69"/><path d="M163.6 396.2L172.3 387.4L181.1 379.4L189.8 372.0L198.6 364.0L207.3 355.6L216.0 349.0L224.8 343.8L233.5 338.4L242.3 333.2L251.0 327.6L259.7 320.7L268.5 314.0L277.2 308.1L286.0 301.6L294.7 295.0L303.4 288.2L312.2 280.5L320.9 273.5L329.6 267.1L338.4 262.4L347.1 258.7L355.9 254.9L364.6 250.5L373.3 246.0L382.1 241.9L390.8 238.6L399.6 235.6L408.3 232.3L417.0 229.1L425.8 226.6L434.5 224.6L443.3 223.0L452.0 221.3L460.7 219.5L469.5 218.1L478.2 216.8L487.0 215.5L495.7 214.4" stroke="#ef7e50"/><path d="M163.6 399.3L172.3 390.2L181.1 381.6L189.8 374.0L198.6 367.0L207.3 359.6L216.0 352.4L224.8 346.7L233.5 340.9L242.3 335.4L251.0 330.9L259.7 325.6L268.5 318.4L277.2 310.7L286.0 303.9L294.7 297.5L303.4 290.4L312.2 282.2L320.9 274.6L329.6 267.6L338.4 262.9L347.1 258.9L355.9 254.0L364.6 249.0L373.3 244.5L382.1 240.6L390.8 237.2L399.6 234.0L408.3 230.5L417.0 227.1L425.8 224.7L434.5 223.0L443.3 221.2L452.0 219.4L460.7 217.9L469.5 216.3L478.2 214.8L487.0 213.8L495.7 212.9" stroke="#fca636"/><path d="M241.0 400.4L250.0 395.8L258.9 391.6L267.9 387.3L276.9 382.4L285.9 377.6L294.8 372.9L303.8 367.6L312.8 362.1L321.8 357.4L330.7 353.4L339.7 348.6L348.7 343.3L357.7 338.0L366.6 332.7L375.6 328.3L384.6 324.5L393.5 320.4L402.5 316.8L411.5 313.5L420.5 309.4L429.4 305.1L438.4 301.3L447.4 298.1L456.4 295.4L465.3 292.7L474.3 289.6L483.3 286.1L492.3 283.2L501.2 281.2L510.2 279.6" stroke="#41049d"/><path d="M241.0 402.9L250.0 398.2L258.9 393.2L267.9 388.1L276.9 383.4L285.9 379.1L294.8 374.5L303.8 369.7L312.8 365.3L321.8 360.7L330.7 355.1L339.7 349.7L348.7 344.7L357.7 339.1L366.6 333.5L375.6 329.2L384.6 325.3L393.5 320.4L402.5 315.9L411.5 312.0L420.5 308.0L429.4 303.7L438.4 300.1L447.4 296.9L456.4 293.8L465.3 291.2L474.3 288.3L483.3 284.9L492.3 282.1L501.2 280.0L510.2 278.0" stroke="#7100a8"/><path d="M241.0 409.8L250.0 405.6L258.9 401.5L267.9 396.2L276.9 390.2L285.9 384.9L294.8 380.3L303.8 375.6L312.8 370.6L321.8 365.6L330.7 360.4L339.7 354.8L348.7 349.2L357.7 343.0L366.6 336.5L375.6 330.9L384.6 326.0L393.5 320.5L402.5 315.3L411.5 310.8L420.5 306.5L429.4 302.1L438.4 298.3L447.4 295.3L456.4 292.3L465.3 289.1L474.3 285.9L483.3 282.8L492.3 280.3L501.2 278.4L510.2 276.7" stroke="#9c179e"/><path d="M241.0 415.2L250.0 410.3L258.9 405.9L267.9 401.0L276.9 395.9L285.9 391.1L294.8 386.4L303.8 382.2L312.8 377.7L321.8 372.4L330.7 366.8L339.7 361.3L348.7 355.3L357.7 348.0L366.6 340.1L375.6 332.6L384.6 326.2L393.5 320.3L402.5 314.9L411.5 309.9L420.5 304.9L429.4 299.9L438.4 295.5L447.4 292.1L456.4 288.9L465.3 285.4L474.3 282.2L483.3 279.0L492.3 276.0L501.2 273.8L510.2 272.0" stroke="#bf3984"/><path d="M241.0 425.8L250.0 421.3L258.9 416.4L267.9 410.7L276.9 404.6L285.9 398.5L294.8 393.5L303.8 388.9L312.8 383.4L321.8 377.5L330.7 371.4L339.7 365.0L348.7 358.2L357.7 350.5L366.6 342.3L375.6 334.2L384.6 327.3L393.5 320.5L402.5 314.5L411.5 309.3L420.5 304.7L429.4 300.3L438.4 296.0L447.4 292.4L456.4 289.3L465.3 286.0L474.3 283.1L483.3 280.3L492.3 277.9L501.2 275.7L510.2 274.0" stroke="#da5b69"/><path d="M241.0 425.7L250.0 421.1L258.9 416.5L267.9 411.6L276.9 406.3L285.9 401.2L294.8 396.1L303.8 391.1L312.8 386.4L321.8 381.4L330.7 376.0L339.7 370.1L348.7 363.4L357.7 355.0L366.6 345.8L375.6 336.6L384.6 327.7L393.5 319.4L402.5 312.9L411.5 306.8L420.5 301.1L429.4 295.9L438.4 291.5L447.4 287.7L456.4 283.8L465.3 279.7L474.3 276.3L483.3 273.5L492.3 271.0L501.2 268.6L510.2 266.5" stroke="#ef7e50"/><path d="M241.0 435.5L250.0 430.4L258.9 424.8L267.9 419.0L276.9 414.2L285.9 410.0L294.8 404.7L303.8 399.2L312.8 394.0L321.8 388.6L330.7 383.2L339.7 377.4L348.7 369.6L357.7 359.4L366.6 348.7L375.6 338.5L384.6 329.3L393.5 320.4L402.5 312.7L411.5 305.8L420.5 300.4L429.4 295.2L438.4 289.8L447.4 285.9L456.4 282.6L465.3 278.4L474.3 274.8L483.3 271.8L492.3 269.3L501.2 267.1L510.2 265.2" stroke="#fca636"/><path d="M320.0 448.2L328.8 444.1L337.6 440.2L346.4 436.7L355.2 432.9L364.0 428.5L372.8 423.6L381.6 418.0L390.4 412.8L399.2 408.2L408.0 404.0L416.8 399.5L425.6 393.9L434.4 388.5L443.2 383.2L452.0 378.1L460.8 373.3L469.6 368.5L478.4 363.9L487.2 359.7L496.0 355.6L504.8 352.0L513.6 348.9L522.4 345.0L531.2 341.0L540.0 337.2L548.8 333.5L557.6 330.5L566.4 327.6L575.2 325.0L584.0 322.8L592.8 321.0" stroke="#41049d"/><path d="M320.0 450.6L328.8 446.7L337.6 443.5L346.4 439.9L355.2 435.4L364.0 430.6L372.8 425.6L381.6 420.1L390.4 414.6L399.2 409.4L408.0 404.5L416.8 399.6L425.6 394.8L434.4 389.7L443.2 383.8L452.0 378.5L460.8 373.2L469.6 367.8L478.4 363.1L487.2 358.7L496.0 354.4L504.8 350.7L513.6 347.5L522.4 343.9L531.2 340.2L540.0 336.4L548.8 332.5L557.6 329.3L566.4 326.8L575.2 324.5L584.0 322.3L592.8 320.4" stroke="#7100a8"/><path d="M320.0 454.7L328.8 450.3L337.6 445.7L346.4 442.0L355.2 437.4L364.0 432.6L372.8 428.4L381.6 423.3L390.4 417.4L399.2 412.1L408.0 407.6L416.8 402.4L425.6 396.5L434.4 390.4L443.2 384.1L452.0 378.6L460.8 373.4L469.6 367.9L478.4 362.6L487.2 357.8L496.0 353.1L504.8 349.5L513.6 346.7L522.4 343.2L531.2 339.3L540.0 335.4L548.8 331.7L557.6 328.5L566.4 325.7L575.2 323.3L584.0 321.3L592.8 319.7" stroke="#9c179e"/><path d="M320.0 461.9L328.8 458.8L337.6 455.2L346.4 450.6L355.2 445.9L364.0 442.1L372.8 437.9L381.6 431.9L390.4 425.5L399.2 419.9L408.0 414.2L416.8 408.1L425.6 402.7L434.4 396.9L443.2 390.1L452.0 383.4L460.8 376.3L469.6 369.0L478.4 362.0L487.2 355.9L496.0 350.6L504.8 346.5L513.6 343.5L522.4 339.7L531.2 335.5L540.0 331.6L548.8 328.1L557.6 325.0L566.4 322.2L575.2 319.5L584.0 317.0L592.8 315.0" stroke="#bf3984"/><path d="M320.0 468.2L328.8 464.7L337.6 460.0L346.4 456.0L355.2 452.1L364.0 447.1L372.8 442.1L381.6 437.1L390.4 431.2L399.2 424.9L408.0 419.2L416.8 413.6L425.6 407.5L434.4 400.4L443.2 392.1L452.0 384.1L460.8 376.5L469.6 368.5L478.4 360.6L487.2 353.6L496.0 347.7L504.8 343.2L513.6 339.7L522.4 335.8L531.2 331.7L540.0 328.0L548.8 324.8L557.6 321.9L566.4 318.8L575.2 315.8L584.0 313.3L592.8 311.1" stroke="#da5b69"/><path d="M320.0 473.7L328.8 470.9L337.6 467.4L346.4 462.7L355.2 457.6L364.0 453.3L372.8 448.9L381.6 442.9L390.4 436.5L399.2 430.6L408.0 424.6L416.8 418.4L425.6 411.7L434.4 403.7L443.2 394.9L452.0 386.4L460.8 377.9L469.6 368.7L478.4 359.3L487.2 351.7L496.0 345.7L504.8 340.7L513.6 336.5L522.4 332.5L531.2 329.1L540.0 325.8L548.8 322.2L557.6 318.7L566.4 315.9L575.2 313.1L584.0 310.4L592.8 307.9" stroke="#ef7e50"/><path d="M320.0 470.4L328.8 467.6L337.6 464.0L346.4 459.9L355.2 455.9L364.0 451.1L372.8 445.5L381.6 438.7L390.4 431.3L399.2 423.9L408.0 415.5L416.8 406.5L425.6 396.8L434.4 387.2L443.2 378.3L452.0 369.6L460.8 360.9L469.6 352.7L478.4 346.1L487.2 340.3L496.0 335.3L504.8 331.0L513.6 326.7L522.4 323.0L531.2 319.7L540.0 316.4L548.8 313.5L557.6 311.0L566.4 308.7L575.2 306.7L584.0 304.7L592.8 302.9" stroke="#fca636"/><path d="M401.4 479.6L410.3 479.1L419.2 477.4L428.1 473.4L437.0 467.7L445.9 462.5L454.8 457.2L463.7 453.0L472.6 450.4L481.5 447.2L490.4 442.9L499.3 438.1L508.2 432.7L517.1 427.6L526.0 422.8L534.9 418.2L543.9 414.0L552.8 410.0L561.7 406.0L570.6 402.0L579.5 397.8L588.4 393.8L597.3 390.6L606.2 387.4L615.1 383.4L624.0 379.7L632.9 376.8L641.8 373.9L650.7 371.1L659.6 368.7L668.5 366.6L677.4 364.6" stroke="#41049d"/><path d="M401.4 492.7L410.3 489.7L419.2 486.3L428.1 482.4L437.0 477.0L445.9 471.2L454.8 466.1L463.7 462.1L472.6 458.1L481.5 453.0L490.4 446.9L499.3 440.4L508.2 434.5L517.1 428.4L526.0 422.3L534.9 417.6L543.9 412.9L552.8 408.1L561.7 403.8L570.6 399.5L579.5 395.5L588.4 391.9L597.3 388.6L606.2 385.0L615.1 380.9L624.0 377.0L632.9 374.1L641.8 371.4L650.7 369.0L659.6 366.8L668.5 364.6L677.4 362.8" stroke="#7100a8"/><path d="M401.4 497.8L410.3 494.9L419.2 491.4L428.1 487.0L437.0 481.8L445.9 477.0L454.8 472.0L463.7 467.0L472.6 461.6L481.5 455.2L490.4 448.9L499.3 442.5L508.2 435.7L517.1 429.1L526.0 423.1L534.9 418.0L543.9 412.7L552.8 407.9L561.7 403.5L570.6 399.1L579.5 394.7L588.4 390.8L597.3 387.2L606.2 383.5L615.1 379.7L624.0 376.3L632.9 373.6L641.8 371.0L650.7 368.1L659.6 365.6L668.5 363.7L677.4 362.1" stroke="#9c179e"/><path d="M401.4 500.1L410.3 496.5L419.2 492.5L428.1 488.0L437.0 482.9L445.9 477.8L454.8 473.3L463.7 469.2L472.6 464.3L481.5 457.7L490.4 450.4L499.3 443.4L508.2 436.8L517.1 429.4L526.0 421.9L534.9 416.6L543.9 411.9L552.8 406.6L561.7 401.1L570.6 396.3L579.5 392.2L588.4 388.1L597.3 384.1L606.2 380.1L615.1 376.1L624.0 372.2L632.9 369.3L641.8 366.8L650.7 364.0L659.6 361.5L668.5 359.4L677.4 357.8" stroke="#bf3984"/><path d="M401.4 504.1L410.3 500.1L419.2 496.7L428.1 492.8L437.0 488.4L445.9 484.2L454.8 479.6L463.7 474.4L472.6 468.5L481.5 462.5L490.4 455.8L499.3 447.3L508.2 439.0L517.1 431.3L526.0 423.7L534.9 417.8L543.9 412.5L552.8 407.3L561.7 401.7L570.6 396.0L579.5 391.1L588.4 386.8L597.3 382.6L606.2 378.4L615.1 374.0L624.0 370.3L632.9 367.2L641.8 364.1L650.7 361.4L659.6 359.1L668.5 356.9L677.4 355.3" stroke="#da5b69"/><path d="M401.4 507.5L410.3 504.4L419.2 499.9L428.1 494.7L437.0 489.9L445.9 485.5L454.8 481.3L463.7 476.6L472.6 470.4L481.5 463.6L490.4 456.2L499.3 447.7L508.2 439.0L517.1 430.2L526.0 422.3L534.9 416.9L543.9 411.3L552.8 405.4L561.7 399.0L570.6 393.0L579.5 388.6L588.4 384.3L597.3 379.9L606.2 375.6L615.1 371.2L624.0 366.9L632.9 363.5L641.8 360.7L650.7 358.0L659.6 355.5L668.5 353.5L677.4 351.8" stroke="#ef7e50"/><path d="M401.4 511.3L410.3 506.3L419.2 501.3L428.1 497.4L437.0 493.9L445.9 489.8L454.8 485.2L463.7 480.4L472.6 474.2L481.5 466.5L490.4 458.4L499.3 449.0L508.2 439.8L517.1 430.8L526.0 422.2L534.9 416.4L543.9 410.5L552.8 404.5L561.7 398.5L570.6 392.3L579.5 387.2L588.4 382.6L597.3 378.3L606.2 373.8L615.1 368.9L624.0 364.6L632.9 361.3L641.8 358.5L650.7 355.6L659.6 352.7L668.5 350.7L677.4 349.3" stroke="#fca636"/><path d="M414.8 539.7L423.5 535.7L432.2 532.0L440.9 528.2L449.7 524.1L458.4 519.6L467.1 515.6L475.8 513.6L484.5 511.9L493.2 508.0L501.9 502.9L510.6 498.5L519.4 495.1L528.1 492.4L536.8 490.0L545.5 486.9L554.2 483.7L562.9 480.4L571.6 476.5L580.3 472.2L589.0 469.2L597.8 467.0L606.5 463.8L615.2 460.5L623.9 457.4L632.6 454.3L641.3 451.5L650.0 448.6L658.8 445.4L667.5 442.4L676.2 439.5L684.9 436.4L693.6 433.4L702.3 430.6L711.0 427.9L719.7 425.3L728.5 422.8L737.2 420.5L745.9 418.2L754.6 416.0L763.3 413.7L772.0 411.4L780.7 409.5L789.4 407.8L798.2 406.1L806.9 404.4L815.6 402.8L824.3 401.2L833.0 400.1" stroke="#41049d"/><path d="M414.8 552.4L423.5 548.6L432.2 545.0L440.9 541.9L449.7 538.1L458.4 533.5L467.1 529.5L475.8 526.4L484.5 523.4L493.2 520.0L501.9 516.2L510.6 511.9L519.4 507.7L528.1 504.3L536.8 501.1L545.5 496.8L554.2 491.7L562.9 486.6L571.6 480.9L580.3 474.5L589.0 468.8L597.8 464.4L606.5 459.6L615.2 454.7L623.9 450.7L632.6 446.7L641.3 442.2L650.0 437.6L658.8 434.4L667.5 431.6L676.2 428.2L684.9 424.9L693.6 421.8L702.3 418.9L711.0 416.7L719.7 414.6L728.5 411.8L737.2 408.9L745.9 406.6L754.6 404.8L763.3 402.9L772.0 400.9L780.7 399.0L789.4 397.5L798.2 395.8L806.9 394.0L815.6 392.3L824.3 390.8L833.0 389.6" stroke="#7100a8"/><path d="M414.8 558.3L423.5 555.0L432.2 552.2L440.9 549.6L449.7 545.5L458.4 540.9L467.1 537.6L475.8 534.3L484.5 530.0L493.2 525.6L501.9 521.2L510.6 517.2L519.4 513.4L528.1 509.0L536.8 505.1L545.5 500.8L554.2 495.3L562.9 489.2L571.6 482.5L580.3 475.8L589.0 469.5L597.8 463.7L606.5 458.0L615.2 452.6L623.9 448.3L632.6 443.6L641.3 438.3L650.0 433.9L658.8 430.8L667.5 427.5L676.2 424.3L684.9 421.7L693.6 418.5L702.3 414.9L711.0 412.4L719.7 410.3L728.5 407.6L737.2 405.0L745.9 402.7L754.6 400.6L763.3 398.6L772.0 396.8L780.7 395.1L789.4 393.2L798.2 391.4L806.9 389.7L815.6 388.2L824.3 386.8L833.0 385.5" stroke="#9c179e"/><path d="M414.8 568.6L423.5 565.7L432.2 562.4L440.9 558.8L449.7 555.0L458.4 551.2L467.1 547.2L475.8 543.1L484.5 539.4L493.2 534.9L501.9 529.9L510.6 525.5L519.4 521.3L528.1 517.2L536.8 512.9L545.5 507.5L554.2 500.4L562.9 492.7L571.6 485.3L580.3 477.8L589.0 471.5L597.8 466.0L606.5 459.2L615.2 452.5L623.9 447.9L632.6 443.4L641.3 437.7L650.0 432.7L658.8 429.5L667.5 426.6L676.2 423.1L684.9 419.5L693.6 416.4L702.3 413.4L711.0 410.4L719.7 407.8L728.5 405.5L737.2 403.3L745.9 401.3L754.6 399.6L763.3 397.8L772.0 395.7L780.7 393.7L789.4 392.1L798.2 390.5L806.9 388.9L815.6 387.2L824.3 385.6L833.0 384.3" stroke="#bf3984"/><path d="M414.8 569.7L423.5 566.4L432.2 562.8L440.9 559.7L449.7 556.6L458.4 552.8L467.1 548.5L475.8 543.9L484.5 539.2L493.2 535.5L501.9 531.7L510.6 526.8L519.4 522.5L528.1 518.6L536.8 513.7L545.5 507.8L554.2 501.3L562.9 494.1L571.6 486.0L580.3 477.6L589.0 470.4L597.8 464.1L606.5 457.3L615.2 451.3L623.9 446.6L632.6 441.1L641.3 435.1L650.0 430.3L658.8 426.9L667.5 423.7L676.2 420.4L684.9 416.8L693.6 413.7L702.3 410.7L711.0 407.8L719.7 405.3L728.5 403.0L737.2 400.7L745.9 398.5L754.6 396.6L763.3 395.0L772.0 393.4L780.7 391.6L789.4 389.8L798.2 388.0L806.9 386.4L815.6 384.9L824.3 383.5L833.0 382.2" stroke="#da5b69"/><path d="M414.8 573.2L423.5 569.8L432.2 566.6L440.9 563.2L449.7 560.3L458.4 557.5L467.1 553.0L475.8 548.1L484.5 544.4L493.2 540.5L501.9 535.6L510.6 530.8L519.4 526.6L528.1 522.4L536.8 517.9L545.5 512.1L554.2 505.3L562.9 497.6L571.6 489.4L580.3 480.4L589.0 472.1L597.8 465.4L606.5 458.5L615.2 451.9L623.9 446.8L632.6 440.9L641.3 434.7L650.0 430.0L658.8 426.3L667.5 422.9L676.2 419.8L684.9 416.6L693.6 412.9L702.3 409.5L711.0 406.8L719.7 404.5L728.5 402.2L737.2 400.3L745.9 398.4L754.6 396.1L763.3 394.2L772.0 392.7L780.7 390.6L789.4 388.7L798.2 387.2L806.9 385.6L815.6 384.0L824.3 382.6L833.0 381.2" stroke="#ef7e50"/><path d="M414.8 578.5L423.5 576.2L432.2 572.8L440.9 568.0L449.7 563.0L458.4 558.6L467.1 554.1L475.8 549.4L484.5 545.0L493.2 540.6L501.9 536.4L510.6 531.0L519.4 523.8L528.1 516.9L536.8 509.6L545.5 501.7L554.2 493.7L562.9 485.1L571.6 476.8L580.3 469.4L589.0 462.4L597.8 456.0L606.5 449.4L615.2 442.6L623.9 436.1L632.6 432.3L641.3 430.1L650.0 427.1L658.8 423.4L667.5 419.4L676.2 416.1L684.9 412.9L693.6 409.8L702.3 406.7L711.0 403.9L719.7 401.5L728.5 399.1L737.2 396.8L745.9 394.8L754.6 392.8L763.3 390.7L772.0 388.8L780.7 387.0L789.4 385.3L798.2 383.6L806.9 382.0L815.6 380.3L824.3 378.8L833.0 377.4" stroke="#fca636"/></g>
<g fill="#000">
<text x="102.3" y="454.4" font-size="39.5" text-anchor="end" font-family='"Liberation Serif", "DejaVu Serif", serif'  textLength="45.5" lengthAdjust="spacingAndGlyphs">1.5</text>
<text x="125.8" y="571.0" font-size="39.5" text-anchor="end" font-family='"Liberation Serif", "DejaVu Serif", serif'  >1.0</text>
<text x="149.2" y="693.6" font-size="39.5" text-anchor="end" font-family='"Liberation Serif", "DejaVu Serif", serif'  >0.5</text>
<text x="173.6" y="825.2" font-size="39.5" text-anchor="end" font-family='"Liberation Serif", "DejaVu Serif", serif'  >0.0</text>
<text x="286.8" y="826.6" font-size="39.5" text-anchor="middle" font-family='"Liberation Serif", "DejaVu Serif", serif'  >5</text>
<text x="419.9" y="810.6" font-size="39.5" text-anchor="middle" font-family='"Liberation Serif", "DejaVu Serif", serif'  textLength="36.3" lengthAdjust="spacingAndGlyphs">10</text>
<text x="552.0" y="794.0" font-size="39.5" text-anchor="middle" font-family='"Liberation Serif", "DejaVu Serif", serif'  >15</text>
<text x="684.0" y="778.0" font-size="39.5" text-anchor="middle" font-family='"Liberation Serif", "DejaVu Serif", serif'  >20</text>
<text x="68.5" y="646.2" font-size="49.0" text-anchor="middle" font-family='"Liberation Serif", "DejaVu Serif", serif' font-style="italic" >s</text>
<g transform="translate(442 835) rotate(-7.5)" font-family='"Liberation Serif", "DejaVu Serif", serif'><text font-size="52" font-style="italic" x="1" y="0" textLength="25" lengthAdjust="spacingAndGlyphs">J</text><text font-size="35" x="29.8" y="-15.2" textLength="23" lengthAdjust="spacingAndGlyphs">−</text><text font-size="35.5" x="61.5" y="-16.7" text-anchor="middle">1</text></g>
<g transform="translate(12.7 116.3) rotate(86.8)" font-family='"Liberation Serif", "DejaVu Serif", serif'><text x="0" y="0" font-size="50.5" textLength="58" lengthAdjust="spacingAndGlyphs">log</text><text x="60" y="2" font-size="58" textLength="15" lengthAdjust="spacingAndGlyphs">(</text><text x="86" y="-18.8" font-size="34" text-anchor="middle">2</text><rect x="77.7" y="-12.6" width="16" height="1.8"/><text x="86" y="17.3" font-size="34" text-anchor="middle">3</text><text x="109" y="4" font-size="50.5" textLength="35.3" lengthAdjust="spacingAndGlyphs">−</text><text x="155" y="0" font-size="50.5" font-style="italic">U</text><text x="191.8" y="2" font-size="58" textLength="15" lengthAdjust="spacingAndGlyphs">)</text></g>
</g>
<rect x="636.5" y="1.5" width="354.5" height="284.0" fill="#fff" stroke="#000" stroke-width="2"/>
<g stroke="#000" stroke-width="1.6">
<path d="M646.0 285.5v-7"/>
<path d="M756.0 285.5v-7"/>
<path d="M866.0 285.5v-7"/>
<path d="M976.0 285.5v-7"/>
<path d="M636.5 221.0h7"/>
<path d="M636.5 94.0h7"/>
</g>
<circle cx="676.6" cy="246.4" r="7" fill="#1f77b4"/>
<circle cx="753.6" cy="195.6" r="7" fill="#1f77b4"/>
<circle cx="816.7" cy="144.8" r="7" fill="#1f77b4"/>
<circle cx="872.2" cy="94.0" r="7" fill="#1f77b4"/>
<circle cx="923.6" cy="49.0" r="7" fill="#1f77b4"/>
<path d="M650.9 272.7L975 12.7" stroke="#000" stroke-width="3.4" stroke-linecap="square"/>
<g fill="#000">
<text x="644.7" y="313.0" font-size="29.0" text-anchor="middle" font-family='"Liberation Serif", "DejaVu Serif", serif'  >1.0</text>
<text x="755.6" y="313.0" font-size="29.0" text-anchor="middle" font-family='"Liberation Serif", "DejaVu Serif", serif'  >1.5</text>
<text x="865.6" y="313.0" font-size="29.0" text-anchor="middle" font-family='"Liberation Serif", "DejaVu Serif", serif'  >2.0</text>
<text x="975.6" y="313.0" font-size="29.0" text-anchor="middle" font-family='"Liberation Serif", "DejaVu Serif", serif'  >2.5</text>
<text x="628.2" y="231.2" font-size="29.0" text-anchor="end" font-family='"Liberation Serif", "DejaVu Serif", serif'  >10</text>
<text x="628.2" y="104.2" font-size="29.0" text-anchor="end" font-family='"Liberation Serif", "DejaVu Serif", serif'  >15</text>
<g transform="translate(586 168.5) rotate(-90)" font-family='"Liberation Serif", "DejaVu Serif", serif'><text font-size="37" font-style="italic" x="0" y="0" textLength="18.5" lengthAdjust="spacingAndGlyphs">J</text><text font-size="25" x="23" y="-14.5" textLength="18.5" lengthAdjust="spacingAndGlyphs">−</text><text font-size="25" x="40" y="-14.2">1</text></g>
<text x="759.5" y="351" font-family='"Liberation Serif", "DejaVu Serif", serif' font-size="35" font-style="italic" textLength="24" lengthAdjust="spacingAndGlyphs">T</text>
<text x="781.3" y="356.3" font-family='"Liberation Sans", "DejaVu Sans", sans-serif' font-size="25" textLength="84.5" lengthAdjust="spacingAndGlyphs" stroke="#000" stroke-width="0.3">effective</text>
</g>
<rect x="896" y="384" width="19" height="328" fill="url(#cb)" stroke="#000" stroke-width="1.8"/>
<g stroke="#000" stroke-width="1.6">
<path d="M915 386.7h-8"/>
<path d="M915 454.0h-8"/>
<path d="M915 521.6h-8"/>
<path d="M915 589.7h-8"/>
<path d="M915 657.4h-8"/>
</g><g fill="#000">
<text x="920.2" y="397.7" font-size="31.0" text-anchor="start" font-family='"Liberation Serif", "DejaVu Serif", serif'  textLength="37" lengthAdjust="spacingAndGlyphs">1.0</text>
<text x="920.2" y="465.0" font-size="31.0" text-anchor="start" font-family='"Liberation Serif", "DejaVu Serif", serif'  textLength="37" lengthAdjust="spacingAndGlyphs">0.8</text>
<text x="920.2" y="532.6" font-size="31.0" text-anchor="start" font-family='"Liberation Serif", "DejaVu Serif", serif'  textLength="37" lengthAdjust="spacingAndGlyphs">0.6</text>
<text x="920.2" y="600.7" font-size="31.0" text-anchor="start" font-family='"Liberation Serif", "DejaVu Serif", serif'  textLength="37" lengthAdjust="spacingAndGlyphs">0.4</text>
<text x="920.2" y="668.4" font-size="31.0" text-anchor="start" font-family='"Liberation Serif", "DejaVu Serif", serif'  textLength="37" lengthAdjust="spacingAndGlyphs">0.2</text>
<g transform="translate(991.5 0) rotate(-90)" font-family='"Liberation Sans", "DejaVu Sans", sans-serif' font-size="35.5" stroke="#000" stroke-width="0.35"><text x="-723.6" y="0" textLength="121" lengthAdjust="spacingAndGlyphs">Average</text><text x="-590.5" y="0" textLength="217" lengthAdjust="spacingAndGlyphs">Magnetization</text></g>
</g>
</svg>
</body></html>
